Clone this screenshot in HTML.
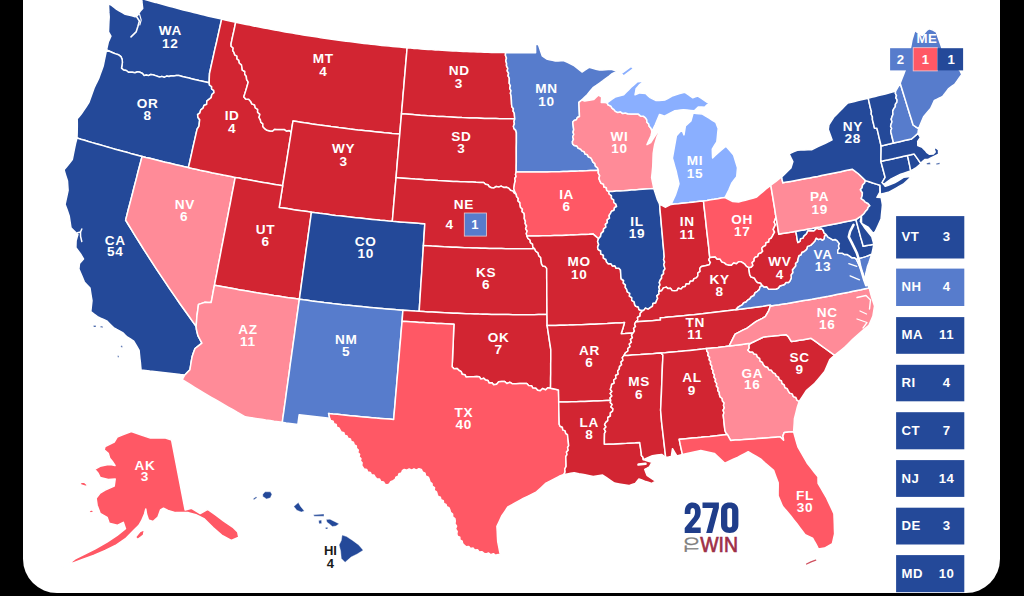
<!DOCTYPE html><html><head><meta charset="utf-8"><style>
html,body{margin:0;padding:0;background:#000;}
#wrap{position:relative;width:1024px;height:596px;overflow:hidden;background:#000;}
#card{position:absolute;left:23px;top:-40px;width:977px;height:633px;background:#fff;border-radius:34px;}
svg{position:absolute;left:0;top:0;}
text{font-family:"Liberation Sans",sans-serif;font-weight:bold;} .nw{font-weight:normal}
</style></head><body><div id="wrap"><div id="card"></div>
<svg width="1024" height="596" viewBox="0 0 1024 596">
<g stroke="#fff" stroke-width="1.5" stroke-linejoin="round">
<path d="M141.7,-1.5 145.1,-0.5 148.6,0.5 152.0,1.5 155.5,2.4 159.0,3.4 162.4,4.3 165.9,5.3 169.4,6.2 172.8,7.1 176.3,8.1 179.8,9.0 183.3,9.9 186.8,10.7 190.2,11.6 193.7,12.5 197.2,13.3 200.7,14.2 204.2,15.0 207.7,15.9 211.2,16.7 214.7,17.5 218.2,18.3 221.7,19.1 220.6,24.0 219.5,28.9 218.4,33.9 217.3,38.8 216.2,43.7 215.0,48.7 213.9,53.6 212.8,58.6 211.7,63.5 210.6,68.5 209.5,73.5 209.3,78.1 209.2,82.8 205.8,82.0 202.5,81.2 199.1,80.5 195.7,79.7 192.3,78.9 189.0,78.1 185.6,77.3 182.2,76.4 178.9,75.6 176.3,75.4 173.8,75.9 171.3,75.7 169.0,76.5 166.6,76.1 164.2,77.3 161.8,76.4 159.4,77.0 156.2,75.9 152.9,74.8 150.7,74.5 148.5,75.6 146.3,75.0 144.1,75.6 142.5,73.5 140.2,72.3 137.6,71.8 135.0,72.7 132.3,72.3 128.4,72.3 126.3,70.5 123.5,70.0 121.5,68.1 122.4,62.7 122.2,59.6 121.0,56.7 118.6,54.8 115.6,53.9 112.8,52.7 110.0,51.5 106.5,50.0 107.4,46.0 108.3,42.0 109.6,39.1 110.9,36.2 108.5,31.8 108.7,26.8 108.9,21.9 109.2,16.9 108.9,12.9 108.7,8.9 108.5,4.9 110.0,4.3 112.3,5.9 114.5,7.6 116.7,9.3 119.6,11.0 122.4,12.6 125.2,14.3 128.5,15.1 131.9,15.8 135.1,16.8 138.0,14.9 140.4,10.9 142.7,8.4 142.3,5.1 141.9,1.7 141.7,-1.5Z" fill="#244999"/>
<path d="M106.5,50.0 110.0,51.5 112.8,52.7 115.6,53.9 118.6,54.8 121.0,56.7 122.2,59.6 122.4,62.7 121.5,68.1 123.5,70.0 126.3,70.5 128.4,72.3 132.3,72.3 135.0,72.7 137.6,71.8 140.2,72.3 142.5,73.5 144.1,75.6 146.3,75.0 148.5,75.6 150.7,74.5 152.9,74.8 156.2,75.9 159.4,77.0 161.8,76.4 164.2,77.3 166.6,76.1 169.0,76.5 171.3,75.7 173.8,75.9 176.3,75.4 178.9,75.6 182.2,76.4 185.6,77.3 189.0,78.1 192.3,78.9 195.7,79.7 199.1,80.5 202.5,81.2 205.8,82.0 209.2,82.8 209.5,85.1 211.6,86.5 211.6,89.0 213.7,90.4 214.0,92.7 211.8,94.5 211.2,97.6 208.9,99.4 206.8,101.1 206.7,104.2 203.9,105.5 203.1,108.1 200.7,109.9 199.9,112.9 197.6,114.7 198.0,117.5 199.7,119.7 199.3,123.0 199.0,126.2 197.1,129.2 196.0,134.0 194.9,138.8 193.8,143.6 192.7,148.4 191.7,153.2 190.6,158.0 189.5,162.8 188.4,167.6 184.5,166.7 180.7,165.8 176.8,164.9 172.9,164.0 169.1,163.1 165.2,162.2 161.3,161.2 157.5,160.3 153.6,159.3 149.8,158.3 145.9,157.4 142.1,156.4 138.2,155.4 134.4,154.4 130.5,153.4 126.7,152.3 122.8,151.3 119.0,150.2 115.2,149.2 111.4,148.1 107.5,147.0 103.7,145.9 99.9,144.8 96.1,143.7 92.2,142.6 88.4,141.5 84.6,140.3 80.8,139.2 77.0,138.0 77.2,132.3 77.3,126.7 77.3,122.8 77.2,118.8 79.2,116.5 81.2,114.1 83.7,110.3 86.3,106.5 88.8,102.7 90.5,97.9 92.3,93.1 94.0,88.3 96.3,83.3 98.7,78.4 100.2,74.3 101.7,70.2 103.2,66.1 104.3,60.7 105.4,55.4 106.5,50.0Z" fill="#244999"/>
<path d="M77.0,138.0 80.8,139.2 84.6,140.3 88.4,141.5 92.2,142.6 96.1,143.7 99.9,144.8 103.7,145.9 107.5,147.0 111.4,148.1 115.2,149.2 119.0,150.2 122.8,151.3 126.7,152.3 130.5,153.4 134.4,154.4 138.2,155.4 142.1,156.4 140.7,161.7 139.3,167.0 137.9,172.3 136.6,177.6 135.2,182.9 133.8,188.2 132.5,193.5 131.1,198.9 129.7,204.2 128.3,209.5 127.0,214.8 125.6,220.1 128.6,225.0 131.6,229.9 134.6,234.8 137.6,239.6 140.7,244.5 143.7,249.4 146.8,254.2 150.0,259.1 153.1,263.9 156.3,268.8 159.5,273.6 162.7,278.4 165.9,283.2 169.2,288.1 172.5,292.9 175.8,297.7 179.1,302.5 182.5,307.2 185.9,312.0 189.3,316.8 192.7,321.6 196.1,326.3 196.5,329.8 197.9,335.6 199.9,339.4 201.9,343.1 198.4,345.8 195.0,348.5 193.5,352.6 192.1,356.8 191.3,361.1 190.6,365.5 189.9,369.8 187.3,372.4 184.8,375.0 180.4,374.6 176.0,374.1 171.7,373.6 167.3,373.1 162.9,372.6 158.6,372.1 154.2,371.6 149.8,371.1 145.5,370.5 141.1,370.0 140.7,366.3 140.4,362.6 139.9,358.6 139.5,354.5 139.1,350.4 136.4,345.7 133.7,341.1 130.4,339.0 127.1,337.0 125.1,335.0 123.1,332.9 119.9,331.1 116.7,329.4 113.5,327.6 110.1,324.3 106.7,320.9 103.6,319.5 100.6,318.2 97.5,316.7 94.1,314.2 90.8,311.6 91.4,306.1 92.0,300.6 91.4,297.0 90.8,293.4 90.0,288.0 87.1,284.9 84.3,281.9 81.6,275.4 78.9,269.0 79.5,263.5 83.5,258.9 81.1,254.8 78.5,251.2 75.9,247.6 76.0,244.2 76.1,240.8 77.0,237.6 77.9,234.5 74.5,231.2 71.0,227.9 70.1,221.9 69.2,215.9 67.2,210.1 65.1,204.4 66.1,199.7 67.1,195.0 68.1,190.4 67.8,185.7 67.5,181.0 65.7,175.4 64.0,169.8 66.8,166.4 69.6,163.0 72.3,159.5 73.4,154.1 74.5,148.7 75.6,143.3 77.0,138.0Z" fill="#244999"/>
<path d="M142.1,156.4 145.9,157.4 149.8,158.3 153.6,159.3 157.5,160.3 161.3,161.2 165.2,162.2 169.1,163.1 172.9,164.0 176.8,164.9 180.7,165.8 184.5,166.7 188.4,167.6 192.3,168.5 196.2,169.3 200.1,170.2 204.0,171.0 207.9,171.8 211.8,172.7 215.7,173.5 219.6,174.3 223.5,175.1 227.4,175.8 231.3,176.6 235.2,177.4 234.2,182.8 233.2,188.1 232.1,193.5 231.1,198.9 230.1,204.3 229.0,209.7 228.0,215.1 226.9,220.5 225.9,225.8 224.9,231.2 223.8,236.6 222.8,242.0 221.7,247.4 220.7,252.8 219.7,258.2 218.6,263.6 217.6,269.0 216.6,274.4 215.5,279.8 214.5,285.2 213.6,289.5 212.8,293.9 212.0,298.3 211.1,302.6 208.0,302.5 205.0,302.3 201.7,303.4 198.5,304.4 197.8,309.9 197.0,315.3 196.6,320.8 196.1,326.3 192.7,321.6 189.3,316.8 185.9,312.0 182.5,307.2 179.1,302.5 175.8,297.7 172.5,292.9 169.2,288.1 165.9,283.2 162.7,278.4 159.5,273.6 156.3,268.8 153.1,263.9 150.0,259.1 146.8,254.2 143.7,249.4 140.7,244.5 137.6,239.6 134.6,234.8 131.6,229.9 128.6,225.0 125.6,220.1 127.0,214.8 128.3,209.5 129.7,204.2 131.1,198.9 132.5,193.5 133.8,188.2 135.2,182.9 136.6,177.6 137.9,172.3 139.3,167.0 140.7,161.7 142.1,156.4Z" fill="#ff8b98"/>
<path d="M221.7,19.1 225.2,19.9 228.7,20.7 232.2,21.4 235.7,22.2 234.8,26.5 233.9,30.8 232.9,35.1 232.0,39.4 231.1,43.7 231.1,46.2 233.2,48.0 232.8,50.6 234.1,52.7 234.8,54.9 237.0,56.2 237.0,58.9 238.9,60.3 239.3,63.0 241.5,64.9 242.0,67.6 242.3,70.1 244.8,71.5 244.7,74.3 246.3,76.2 246.6,79.4 248.2,82.1 247.0,86.5 245.7,90.9 244.8,93.8 243.8,96.7 245.6,99.0 248.7,99.3 250.7,101.4 251.8,103.9 254.6,105.0 255.3,107.9 257.7,109.3 257.6,112.2 259.9,114.4 259.0,117.4 260.4,119.8 260.8,122.2 262.9,123.8 262.8,126.5 264.4,128.3 267.0,130.3 270.2,130.9 272.6,131.0 274.5,129.2 276.8,129.4 280.7,129.5 284.6,129.6 286.6,131.1 289.3,130.5 291.2,132.2 290.4,137.5 289.5,142.9 288.7,148.2 287.8,153.6 287.0,158.9 286.1,164.3 285.2,169.6 284.4,175.0 283.5,180.4 282.7,185.7 278.7,185.1 274.7,184.4 270.8,183.8 266.8,183.1 262.9,182.4 258.9,181.7 255.0,181.0 251.0,180.3 247.1,179.6 243.1,178.9 239.2,178.1 235.2,177.4 231.3,176.6 227.4,175.8 223.5,175.1 219.6,174.3 215.7,173.5 211.8,172.7 207.9,171.8 204.0,171.0 200.1,170.2 196.2,169.3 192.3,168.5 188.4,167.6 189.5,162.8 190.6,158.0 191.7,153.2 192.7,148.4 193.8,143.6 194.9,138.8 196.0,134.0 197.1,129.2 199.0,126.2 199.3,123.0 199.7,119.7 198.0,117.5 197.6,114.7 199.9,112.9 200.7,109.9 203.1,108.1 203.9,105.5 206.7,104.2 206.8,101.1 208.9,99.4 211.2,97.6 211.8,94.5 214.0,92.7 213.7,90.4 211.6,89.0 211.6,86.5 209.5,85.1 209.2,82.8 209.3,78.1 209.5,73.5 210.6,68.5 211.7,63.5 212.8,58.6 213.9,53.6 215.0,48.7 216.2,43.7 217.3,38.8 218.4,33.9 219.5,28.9 220.6,24.0 221.7,19.1Z" fill="#d22532"/>
<path d="M235.7,22.2 239.2,22.9 242.8,23.7 246.3,24.4 249.8,25.1 253.4,25.9 256.9,26.6 260.5,27.3 264.0,27.9 267.6,28.6 271.1,29.3 274.7,30.0 278.2,30.6 281.8,31.2 285.3,31.9 288.9,32.5 292.5,33.1 296.0,33.7 299.6,34.3 303.2,34.9 306.7,35.5 310.3,36.0 313.9,36.6 317.4,37.1 321.0,37.7 324.6,38.2 328.2,38.7 331.7,39.2 335.3,39.7 338.9,40.2 342.5,40.7 346.1,41.2 349.6,41.6 353.2,42.1 356.8,42.5 360.4,43.0 364.0,43.4 367.6,43.8 371.2,44.2 374.8,44.6 378.3,45.0 381.9,45.4 385.5,45.8 389.1,46.1 392.7,46.5 396.3,46.8 399.9,47.1 403.5,47.5 407.1,47.8 406.7,52.8 406.3,57.9 405.8,62.9 405.4,68.0 405.0,73.0 404.5,78.1 404.1,83.2 403.7,88.2 403.2,93.3 402.8,98.4 402.4,103.5 401.9,108.6 401.5,113.7 401.1,118.8 400.6,123.9 400.2,129.0 399.8,134.1 395.9,133.7 392.1,133.4 388.3,133.0 384.5,132.7 380.6,132.3 376.8,131.9 373.0,131.5 369.2,131.1 365.4,130.7 361.5,130.3 357.7,129.9 353.9,129.4 350.1,129.0 346.3,128.5 342.5,128.0 338.7,127.6 334.8,127.1 331.0,126.6 327.2,126.0 323.4,125.5 319.6,125.0 315.8,124.4 312.0,123.9 308.2,123.3 304.4,122.8 300.6,122.2 296.8,121.6 293.0,121.0 292.4,124.7 291.8,128.4 291.2,132.2 289.3,130.5 286.6,131.1 284.6,129.6 280.7,129.5 276.8,129.4 274.5,129.2 272.6,131.0 270.2,130.9 267.0,130.3 264.4,128.3 262.8,126.5 262.9,123.8 260.8,122.2 260.4,119.8 259.0,117.4 259.9,114.4 257.6,112.2 257.7,109.3 255.3,107.9 254.6,105.0 251.8,103.9 250.7,101.4 248.7,99.3 245.6,99.0 243.8,96.7 244.8,93.8 245.7,90.9 247.0,86.5 248.2,82.1 246.6,79.4 246.3,76.2 244.7,74.3 244.8,71.5 242.3,70.1 242.0,67.6 241.5,64.9 239.3,63.0 238.9,60.3 237.0,58.9 237.0,56.2 234.8,54.9 234.1,52.7 232.8,50.6 233.2,48.0 231.1,46.2 231.1,43.7 232.0,39.4 232.9,35.1 233.9,30.8 234.8,26.5 235.7,22.2Z" fill="#d22532"/>
<path d="M291.2,132.2 291.8,128.4 292.4,124.7 293.0,121.0 296.8,121.6 300.6,122.2 304.4,122.8 308.2,123.3 312.0,123.9 315.8,124.4 319.6,125.0 323.4,125.5 327.2,126.0 331.0,126.6 334.8,127.1 338.7,127.6 342.5,128.0 346.3,128.5 350.1,129.0 353.9,129.4 357.7,129.9 361.5,130.3 365.4,130.7 369.2,131.1 373.0,131.5 376.8,131.9 380.6,132.3 384.5,132.7 388.3,133.0 392.1,133.4 395.9,133.7 399.8,134.1 399.3,139.5 398.8,144.9 398.4,150.4 397.9,155.8 397.4,161.2 397.0,166.7 396.5,172.1 396.1,177.6 395.6,183.0 395.1,188.5 394.7,193.9 394.2,199.4 393.7,204.9 393.3,210.3 392.8,215.8 392.3,221.2 388.3,220.9 384.2,220.5 380.2,220.2 376.1,219.8 372.1,219.4 368.0,219.0 364.0,218.6 359.9,218.1 355.9,217.7 351.8,217.2 347.8,216.8 343.7,216.3 339.7,215.8 335.6,215.4 331.6,214.9 327.6,214.3 323.5,213.8 319.5,213.3 315.5,212.7 311.4,212.2 307.4,211.6 303.4,211.1 299.3,210.5 295.3,209.9 291.3,209.3 287.2,208.6 283.2,208.0 279.2,207.4 280.1,202.0 280.9,196.6 281.8,191.1 282.7,185.7 283.5,180.4 284.4,175.0 285.2,169.6 286.1,164.3 287.0,158.9 287.8,153.6 288.7,148.2 289.5,142.9 290.4,137.5 291.2,132.2Z" fill="#d22532"/>
<path d="M235.2,177.4 239.2,178.1 243.1,178.9 247.1,179.6 251.0,180.3 255.0,181.0 258.9,181.7 262.9,182.4 266.8,183.1 270.8,183.8 274.7,184.4 278.7,185.1 282.7,185.7 281.8,191.1 280.9,196.6 280.1,202.0 279.2,207.4 283.2,208.0 287.2,208.6 291.3,209.3 295.3,209.9 299.3,210.5 303.4,211.1 307.4,211.6 311.4,212.2 310.7,217.6 309.9,223.1 309.2,228.5 308.4,233.9 307.7,239.4 306.9,244.8 306.1,250.2 305.4,255.7 304.6,261.1 303.9,266.6 303.1,272.0 302.4,277.5 301.6,282.9 300.9,288.3 300.1,293.8 299.4,299.2 295.1,298.6 290.8,298.0 286.6,297.4 282.3,296.8 278.1,296.1 273.8,295.5 269.6,294.8 265.3,294.1 261.1,293.4 256.8,292.8 252.6,292.0 248.3,291.3 244.1,290.6 239.9,289.9 235.6,289.1 231.4,288.3 227.2,287.6 222.9,286.8 218.7,286.0 214.5,285.2 215.5,279.8 216.6,274.4 217.6,269.0 218.6,263.6 219.7,258.2 220.7,252.8 221.7,247.4 222.8,242.0 223.8,236.6 224.9,231.2 225.9,225.8 226.9,220.5 228.0,215.1 229.0,209.7 230.1,204.3 231.1,198.9 232.1,193.5 233.2,188.1 234.2,182.8 235.2,177.4Z" fill="#d22532"/>
<path d="M311.4,212.2 315.5,212.7 319.5,213.3 323.5,213.8 327.6,214.3 331.6,214.9 335.6,215.4 339.7,215.8 343.7,216.3 347.8,216.8 351.8,217.2 355.9,217.7 359.9,218.1 364.0,218.6 368.0,219.0 372.1,219.4 376.1,219.8 380.2,220.2 384.2,220.5 388.3,220.9 392.3,221.2 396.4,221.6 400.4,221.9 404.5,222.2 408.6,222.5 412.6,222.8 416.7,223.1 420.7,223.4 424.8,223.7 424.5,229.1 424.1,234.6 423.8,240.1 423.4,245.6 423.1,251.0 422.7,256.5 422.4,262.0 422.0,267.5 421.7,273.0 421.3,278.5 420.9,283.9 420.6,289.4 420.2,294.9 419.9,300.4 419.5,305.9 419.2,311.3 415.1,311.1 411.0,310.8 407.0,310.5 402.9,310.2 398.7,309.9 394.6,309.6 390.4,309.2 386.3,308.9 382.1,308.5 378.0,308.2 373.8,307.8 369.7,307.4 365.5,307.0 361.4,306.6 357.2,306.2 353.1,305.8 349.0,305.3 344.8,304.9 340.7,304.4 336.5,303.9 332.4,303.5 328.3,303.0 324.1,302.5 320.0,301.9 315.9,301.4 311.7,300.9 307.6,300.3 303.5,299.8 299.4,299.2 300.1,293.8 300.9,288.3 301.6,282.9 302.4,277.5 303.1,272.0 303.9,266.6 304.6,261.1 305.4,255.7 306.1,250.2 306.9,244.8 307.7,239.4 308.4,233.9 309.2,228.5 309.9,223.1 310.7,217.6 311.4,212.2Z" fill="#244999"/>
<path d="M214.5,285.2 218.7,286.0 222.9,286.8 227.2,287.6 231.4,288.3 235.6,289.1 239.9,289.9 244.1,290.6 248.3,291.3 252.6,292.0 256.8,292.8 261.1,293.4 265.3,294.1 269.6,294.8 273.8,295.5 278.1,296.1 282.3,296.8 286.6,297.4 290.8,298.0 295.1,298.6 299.4,299.2 298.6,304.6 297.9,309.9 297.1,315.3 296.4,320.7 295.6,326.0 294.9,331.4 294.2,336.8 293.4,342.1 292.7,347.5 291.9,352.8 291.2,358.2 290.4,363.5 289.7,368.9 289.0,374.2 288.2,379.6 287.5,384.9 286.7,390.3 286.0,395.6 285.3,401.0 284.5,406.3 283.8,411.6 283.0,417.0 282.3,422.3 278.2,421.7 274.1,421.2 270.0,420.6 265.8,420.0 261.7,419.3 257.6,418.7 253.5,418.1 249.4,417.4 245.3,416.8 241.0,414.4 236.7,412.0 232.5,409.5 228.2,407.1 224.0,404.7 219.8,402.2 215.5,399.7 211.3,397.3 207.1,394.8 202.9,392.3 198.8,389.8 194.6,387.3 190.4,384.7 186.3,382.2 182.2,379.6 184.8,375.0 187.3,372.4 189.9,369.8 190.6,365.5 191.3,361.1 192.1,356.8 193.5,352.6 195.0,348.5 198.4,345.8 201.9,343.1 199.9,339.4 197.9,335.6 196.5,329.8 196.1,326.3 196.6,320.8 197.0,315.3 197.8,309.9 198.5,304.4 201.7,303.4 205.0,302.3 208.0,302.5 211.1,302.6 212.0,298.3 212.8,293.9 213.6,289.5 214.5,285.2Z" fill="#ff8b98"/>
<path d="M299.4,299.2 303.5,299.8 307.6,300.3 311.7,300.9 315.9,301.4 320.0,301.9 324.1,302.5 328.3,303.0 332.4,303.5 336.5,303.9 340.7,304.4 344.8,304.9 349.0,305.3 353.1,305.8 357.2,306.2 361.4,306.6 365.5,307.0 369.7,307.4 373.8,307.8 378.0,308.2 382.1,308.5 386.3,308.9 390.4,309.2 394.6,309.6 398.7,309.9 402.9,310.2 402.5,315.7 402.1,321.2 401.6,326.6 401.1,332.1 400.7,337.6 400.2,343.0 399.7,348.5 399.3,354.0 398.8,359.4 398.3,364.9 397.9,370.4 397.4,375.8 396.9,381.3 396.5,386.8 396.0,392.2 395.5,397.7 395.1,403.1 394.6,408.6 394.1,414.0 393.7,419.5 389.3,419.1 385.0,418.8 380.6,418.4 376.3,418.1 372.0,417.7 367.6,417.3 363.3,416.9 358.9,416.5 354.6,416.1 350.3,415.7 345.9,415.2 341.6,414.8 337.3,414.3 332.9,413.9 328.6,413.4 329.7,418.3 325.3,417.8 321.0,417.3 316.6,416.8 312.2,416.3 307.9,415.8 303.5,415.2 299.2,414.7 298.5,419.5 297.9,424.4 294.0,423.9 290.1,423.4 286.2,422.9 282.3,422.3 283.0,417.0 283.8,411.6 284.5,406.3 285.3,401.0 286.0,395.6 286.7,390.3 287.5,384.9 288.2,379.6 289.0,374.2 289.7,368.9 290.4,363.5 291.2,358.2 291.9,352.8 292.7,347.5 293.4,342.1 294.2,336.8 294.9,331.4 295.6,326.0 296.4,320.7 297.1,315.3 297.9,309.9 298.6,304.6 299.4,299.2Z" fill="#577ccc"/>
<path d="M407.1,47.8 410.6,48.1 414.1,48.4 417.6,48.6 421.2,48.9 424.7,49.2 428.2,49.4 431.7,49.6 435.2,49.9 438.7,50.1 442.2,50.3 445.7,50.5 449.3,50.7 452.8,50.9 456.3,51.1 459.8,51.2 463.3,51.4 466.8,51.6 470.4,51.7 473.9,51.8 477.4,52.0 480.9,52.1 484.4,52.2 488.0,52.3 491.5,52.4 495.0,52.4 498.5,52.5 502.0,52.6 505.6,52.6 505.4,55.3 506.5,58.0 505.8,60.7 506.6,63.4 506.5,65.9 507.8,68.3 507.2,70.9 508.6,73.2 508.1,75.8 509.3,78.1 509.3,80.7 509.2,83.2 510.4,85.7 509.7,88.3 511.0,90.7 510.4,93.4 511.1,95.8 511.4,100.2 511.6,104.5 511.9,106.8 513.4,108.7 513.1,111.2 514.3,113.2 514.5,116.0 514.8,118.9 511.0,118.8 507.3,118.8 503.5,118.7 499.7,118.7 495.9,118.6 492.1,118.5 488.4,118.5 484.6,118.4 480.8,118.2 477.0,118.1 473.2,118.0 469.5,117.9 465.7,117.7 461.9,117.6 458.1,117.4 454.3,117.2 450.6,117.0 446.8,116.8 443.0,116.6 439.2,116.4 435.5,116.2 431.7,115.9 427.9,115.7 424.1,115.4 420.4,115.2 416.6,114.9 412.8,114.6 409.0,114.3 405.3,114.0 401.5,113.7 401.9,108.6 402.4,103.5 402.8,98.4 403.2,93.3 403.7,88.2 404.1,83.2 404.5,78.1 405.0,73.0 405.4,68.0 405.8,62.9 406.3,57.9 406.7,52.8 407.1,47.8Z" fill="#d22532"/>
<path d="M401.5,113.7 405.3,114.0 409.0,114.3 412.8,114.6 416.6,114.9 420.4,115.2 424.1,115.4 427.9,115.7 431.7,115.9 435.5,116.2 439.2,116.4 443.0,116.6 446.8,116.8 450.6,117.0 454.3,117.2 458.1,117.4 461.9,117.6 465.7,117.7 469.5,117.9 473.2,118.0 477.0,118.1 480.8,118.2 484.6,118.4 488.4,118.5 492.1,118.5 495.9,118.6 499.7,118.7 503.5,118.7 507.3,118.8 511.0,118.8 514.8,118.9 514.0,121.2 514.4,123.9 513.4,126.2 514.0,128.6 515.8,130.4 516.4,132.8 516.4,137.7 516.4,142.6 516.3,147.5 516.3,152.4 516.3,157.3 516.3,162.2 516.2,167.1 516.2,172.1 515.5,174.2 516.1,176.5 514.8,178.5 515.3,180.9 514.6,183.0 513.8,188.5 514.7,191.6 516.3,194.4 514.2,193.2 512.9,191.1 510.5,190.2 509.0,188.4 506.5,187.2 503.6,187.4 501.1,186.1 498.8,187.0 496.2,186.5 494.0,187.9 491.5,187.7 489.3,186.8 487.9,184.8 485.4,184.2 483.7,182.5 479.9,182.4 476.1,182.3 472.3,182.1 468.5,182.0 464.6,181.8 460.8,181.7 457.0,181.5 453.2,181.4 449.4,181.2 445.6,181.0 441.8,180.8 438.0,180.6 434.1,180.3 430.3,180.1 426.5,179.9 422.7,179.6 418.9,179.3 415.1,179.1 411.3,178.8 407.5,178.5 403.7,178.2 399.9,177.9 396.1,177.6 396.5,172.1 397.0,166.7 397.4,161.2 397.9,155.8 398.4,150.4 398.8,144.9 399.3,139.5 399.8,134.1 400.2,129.0 400.6,123.9 401.1,118.8 401.5,113.7Z" fill="#d22532"/>
<path d="M396.1,177.6 399.9,177.9 403.7,178.2 407.5,178.5 411.3,178.8 415.1,179.1 418.9,179.3 422.7,179.6 426.5,179.9 430.3,180.1 434.1,180.3 438.0,180.6 441.8,180.8 445.6,181.0 449.4,181.2 453.2,181.4 457.0,181.5 460.8,181.7 464.6,181.8 468.5,182.0 472.3,182.1 476.1,182.3 479.9,182.4 483.7,182.5 485.4,184.2 487.9,184.8 489.3,186.8 491.5,187.7 494.0,187.9 496.2,186.5 498.8,187.0 501.1,186.1 503.6,187.4 506.5,187.2 509.0,188.4 510.5,190.2 512.9,191.1 514.2,193.2 516.3,194.4 516.6,196.6 518.3,198.4 518.0,200.9 519.9,202.6 520.1,204.9 520.5,207.3 522.4,209.1 522.1,211.7 524.1,213.4 524.4,215.9 524.3,218.6 525.4,221.1 525.2,223.7 526.6,226.0 525.6,228.7 527.2,231.0 526.3,233.6 527.0,236.1 527.9,238.4 530.1,240.0 530.4,242.6 532.6,244.2 532.8,247.0 534.7,248.7 530.5,248.8 526.4,248.8 522.3,248.8 518.2,248.8 514.0,248.8 509.9,248.7 505.8,248.7 501.7,248.6 497.6,248.6 493.4,248.5 489.3,248.4 485.2,248.3 481.1,248.2 476.9,248.1 472.8,248.0 468.7,247.8 464.6,247.7 460.5,247.5 456.3,247.3 452.2,247.2 448.1,247.0 444.0,246.8 439.9,246.5 435.8,246.3 431.6,246.1 427.5,245.8 423.4,245.6 423.8,240.1 424.1,234.6 424.5,229.1 424.8,223.7 420.7,223.4 416.7,223.1 412.6,222.8 408.6,222.5 404.5,222.2 400.4,221.9 396.4,221.6 392.3,221.2 392.8,215.8 393.3,210.3 393.7,204.9 394.2,199.4 394.7,193.9 395.1,188.5 395.6,183.0 396.1,177.6Z" fill="#d22532"/>
<path d="M423.4,245.6 427.5,245.8 431.6,246.1 435.8,246.3 439.9,246.5 444.0,246.8 448.1,247.0 452.2,247.2 456.3,247.3 460.5,247.5 464.6,247.7 468.7,247.8 472.8,248.0 476.9,248.1 481.1,248.2 485.2,248.3 489.3,248.4 493.4,248.5 497.6,248.6 501.7,248.6 505.8,248.7 509.9,248.7 514.0,248.8 518.2,248.8 522.3,248.8 526.4,248.8 530.5,248.8 534.7,248.7 535.7,251.2 538.1,252.8 538.7,255.6 540.7,257.5 541.1,260.8 541.6,264.1 542.9,266.0 545.3,266.6 546.7,268.4 546.7,273.5 546.7,278.6 546.8,283.8 546.8,288.9 546.8,294.0 546.9,299.1 546.9,304.3 547.0,309.4 547.0,314.5 542.7,314.6 538.5,314.6 534.2,314.7 529.9,314.7 525.7,314.7 521.4,314.7 517.2,314.7 512.9,314.7 508.6,314.6 504.4,314.6 500.1,314.5 495.8,314.5 491.6,314.4 487.3,314.3 483.1,314.2 478.8,314.1 474.5,313.9 470.3,313.8 466.0,313.7 461.8,313.5 457.5,313.3 453.2,313.2 449.0,313.0 444.7,312.8 440.5,312.6 436.2,312.3 432.0,312.1 427.7,311.9 423.4,311.6 419.2,311.3 419.5,305.9 419.9,300.4 420.2,294.9 420.6,289.4 420.9,283.9 421.3,278.5 421.7,273.0 422.0,267.5 422.4,262.0 422.7,256.5 423.1,251.0 423.4,245.6Z" fill="#d22532"/>
<path d="M402.9,310.2 407.0,310.5 411.0,310.8 415.1,311.1 419.2,311.3 423.4,311.6 427.7,311.9 432.0,312.1 436.2,312.3 440.5,312.6 444.7,312.8 449.0,313.0 453.2,313.2 457.5,313.3 461.8,313.5 466.0,313.7 470.3,313.8 474.5,313.9 478.8,314.1 483.1,314.2 487.3,314.3 491.6,314.4 495.8,314.5 500.1,314.5 504.4,314.6 508.6,314.6 512.9,314.7 517.2,314.7 521.4,314.7 525.7,314.7 529.9,314.7 534.2,314.7 538.5,314.6 542.7,314.6 547.0,314.5 547.1,320.0 547.1,325.5 547.9,330.3 548.6,335.2 549.3,340.0 550.1,344.8 550.8,349.6 550.8,354.4 550.8,359.3 550.7,364.1 550.7,368.9 550.7,373.8 550.6,378.6 550.6,383.4 550.5,388.2 547.8,387.8 545.5,389.9 542.6,388.5 540.3,390.7 537.6,390.3 535.9,388.3 532.9,388.1 531.5,385.7 528.6,385.4 526.8,383.4 523.2,383.5 519.6,383.6 516.0,383.7 512.5,383.8 510.0,382.3 506.9,383.5 504.5,381.4 501.7,381.5 498.7,381.8 496.6,384.3 493.6,384.7 492.0,382.8 489.2,383.1 488.0,380.6 485.6,380.1 483.8,378.3 480.9,379.1 479.3,376.7 476.8,376.6 473.2,376.7 469.6,376.8 466.0,376.9 464.9,374.7 462.1,374.2 461.3,371.7 459.1,370.5 457.2,368.6 454.0,368.8 452.1,366.7 452.4,361.4 452.6,356.1 452.8,350.8 453.1,345.5 453.3,340.2 453.5,334.8 453.7,329.5 454.0,324.2 449.6,324.0 445.3,323.8 441.0,323.6 436.6,323.4 432.3,323.1 428.0,322.9 423.7,322.6 419.4,322.4 415.0,322.1 410.7,321.8 406.4,321.5 402.1,321.2 402.5,315.7 402.9,310.2Z" fill="#d22532"/>
<path d="M402.1,321.2 406.4,321.5 410.7,321.8 415.0,322.1 419.4,322.4 423.7,322.6 428.0,322.9 432.3,323.1 436.6,323.4 441.0,323.6 445.3,323.8 449.6,324.0 454.0,324.2 453.7,329.5 453.5,334.8 453.3,340.2 453.1,345.5 452.8,350.8 452.6,356.1 452.4,361.4 452.1,366.7 454.0,368.8 457.2,368.6 459.1,370.5 461.3,371.7 462.1,374.2 464.9,374.7 466.0,376.9 469.6,376.8 473.2,376.7 476.8,376.6 479.3,376.7 480.9,379.1 483.8,378.3 485.6,380.1 488.0,380.6 489.2,383.1 492.0,382.8 493.6,384.7 496.6,384.3 498.7,381.8 501.7,381.5 504.5,381.4 506.9,383.5 510.0,382.3 512.5,383.8 516.0,383.7 519.6,383.6 523.2,383.5 526.8,383.4 528.6,385.4 531.5,385.7 532.9,388.1 535.9,388.3 537.6,390.3 540.3,390.7 542.6,388.5 545.5,389.9 547.8,387.8 550.5,388.2 554.5,389.1 558.5,390.1 558.6,394.1 558.7,398.1 558.7,402.1 558.8,406.5 558.9,410.9 559.0,415.4 559.1,419.8 559.2,424.2 560.1,426.3 562.4,427.3 562.8,429.9 565.2,430.9 565.7,433.3 567.5,434.7 568.1,440.2 568.7,445.6 567.6,447.6 568.2,450.2 566.5,452.1 567.0,454.6 565.8,456.6 566.0,461.5 566.1,466.4 564.8,469.0 565.1,471.9 563.8,474.5 559.1,476.3 554.7,478.6 550.4,480.8 546.0,483.1 541.3,487.5 536.5,491.9 532.1,494.1 527.6,496.3 523.2,498.4 519.3,500.6 515.5,502.7 511.6,504.9 507.8,507.0 504.9,511.3 501.9,515.6 499.4,521.0 496.9,526.4 497.2,531.5 497.4,536.5 497.7,541.6 498.6,546.2 499.5,550.8 500.4,555.4 498.2,554.4 495.6,555.3 493.4,553.7 490.8,554.8 488.6,553.0 486.0,554.0 483.7,553.2 481.8,551.7 479.2,551.9 477.5,549.8 474.8,550.1 473.2,548.1 470.4,548.5 468.8,546.4 466.1,546.7 464.2,545.1 462.6,543.6 462.2,541.1 459.9,540.0 459.8,537.3 457.4,536.3 456.8,534.0 457.2,531.4 455.5,528.9 456.6,526.1 454.9,523.7 455.3,521.0 454.9,518.5 452.6,516.9 452.6,514.1 450.5,512.4 449.9,510.0 449.0,507.8 446.6,506.8 446.0,504.4 443.6,503.4 443.3,500.8 440.9,499.8 440.4,497.3 438.0,496.4 437.2,494.2 436.5,491.9 434.2,490.4 434.5,487.6 432.2,486.1 432.0,483.6 430.0,482.0 429.3,479.6 428.3,477.1 425.5,476.0 425.0,473.1 422.4,471.8 421.3,469.4 418.9,468.7 416.5,470.1 414.0,468.8 411.6,470.1 409.2,468.9 406.8,470.1 404.3,469.4 402.4,470.7 401.6,473.1 399.0,473.7 398.3,476.2 395.9,477.1 395.2,479.5 393.1,480.7 390.8,481.7 389.4,484.0 387.1,485.0 384.8,484.2 383.5,481.9 380.8,481.5 379.6,479.1 376.8,479.0 375.3,477.1 374.0,475.1 371.4,474.7 370.3,472.4 367.7,472.0 366.7,469.6 364.2,469.1 362.8,467.3 361.7,465.3 362.1,462.8 360.4,461.0 360.9,458.5 359.0,456.7 359.6,454.2 357.7,452.5 358.3,450.0 356.4,448.2 356.3,445.9 354.2,444.8 353.4,442.3 351.1,441.5 350.4,439.0 347.9,438.3 347.0,436.0 344.5,435.3 343.9,432.7 341.3,432.1 340.1,430.0 339.0,428.0 336.6,427.2 336.2,424.5 333.8,423.7 333.1,421.3 330.6,420.5 329.7,418.3 328.6,413.4 332.9,413.9 337.3,414.3 341.6,414.8 345.9,415.2 350.3,415.7 354.6,416.1 358.9,416.5 363.3,416.9 367.6,417.3 372.0,417.7 376.3,418.1 380.6,418.4 385.0,418.8 389.3,419.1 393.7,419.5 394.1,414.0 394.6,408.6 395.1,403.1 395.5,397.7 396.0,392.2 396.5,386.8 396.9,381.3 397.4,375.8 397.9,370.4 398.3,364.9 398.8,359.4 399.3,354.0 399.7,348.5 400.2,343.0 400.7,337.6 401.1,332.1 401.6,326.6 402.1,321.2Z" fill="#ff5865"/>
<path d="M617.2,71.1 614.2,70.3 611.2,69.4 608.3,69.6 605.4,69.7 602.4,69.9 599.5,70.1 596.0,69.2 592.6,68.3 589.1,67.3 585.6,69.7 582.0,72.0 578.2,68.9 574.4,65.8 571.0,64.1 567.5,62.4 564.0,60.8 561.1,60.8 558.2,60.9 555.3,61.0 552.4,60.3 549.5,59.7 546.6,59.0 544.4,57.4 542.2,55.8 540.9,52.1 539.7,48.3 538.4,44.5 535.5,44.5 535.6,48.6 535.6,52.7 532.3,52.7 528.9,52.7 525.6,52.7 522.3,52.7 518.9,52.7 515.6,52.7 512.2,52.7 508.9,52.7 505.6,52.6 505.4,55.3 506.5,58.0 505.8,60.7 506.6,63.4 506.5,65.9 507.8,68.3 507.2,70.9 508.6,73.2 508.1,75.8 509.3,78.1 509.3,80.7 509.2,83.2 510.4,85.7 509.7,88.3 511.0,90.7 510.4,93.4 511.1,95.8 511.4,100.2 511.6,104.5 511.9,106.8 513.4,108.7 513.1,111.2 514.3,113.2 514.5,116.0 514.8,118.9 514.0,121.2 514.4,123.9 513.4,126.2 514.0,128.6 515.8,130.4 516.4,132.8 516.4,137.7 516.4,142.6 516.3,147.5 516.3,152.4 516.3,157.3 516.3,162.2 516.2,167.1 516.2,172.1 520.1,172.1 524.0,172.1 528.0,172.1 531.9,172.1 535.8,172.0 539.7,172.0 543.6,171.9 547.5,171.9 551.4,171.8 555.3,171.7 559.3,171.7 563.2,171.6 567.1,171.5 571.0,171.3 574.9,171.2 578.8,171.1 582.7,170.9 586.6,170.8 590.5,170.6 594.4,170.4 598.4,170.2 597.5,167.8 595.4,166.2 594.9,163.6 592.8,161.9 591.9,159.6 590.6,157.7 588.4,156.9 587.4,154.8 585.0,154.0 584.2,151.7 581.9,150.9 580.6,149.1 578.3,148.3 576.9,146.1 574.4,145.6 572.6,144.0 572.4,141.6 573.5,139.3 572.7,136.8 573.8,134.5 573.0,132.1 573.7,129.8 573.2,126.0 572.7,122.2 574.1,120.4 576.4,119.8 577.4,117.5 579.5,116.5 579.3,111.8 579.1,107.1 578.9,102.4 581.7,100.1 584.5,97.3 587.4,94.5 590.2,91.1 593.0,87.7 596.4,85.4 599.7,83.0 603.0,80.7 606.1,78.3 609.2,76.0 612.2,73.6 614.7,72.4 617.2,71.1Z" fill="#577ccc"/>
<path d="M516.2,172.1 520.1,172.1 524.0,172.1 528.0,172.1 531.9,172.1 535.8,172.0 539.7,172.0 543.6,171.9 547.5,171.9 551.4,171.8 555.3,171.7 559.3,171.7 563.2,171.6 567.1,171.5 571.0,171.3 574.9,171.2 578.8,171.1 582.7,170.9 586.6,170.8 590.5,170.6 594.4,170.4 598.4,170.2 598.2,173.0 599.7,175.6 598.9,178.5 600.0,181.1 601.0,183.2 603.5,184.1 603.8,186.8 606.3,187.7 606.7,190.3 608.7,191.6 609.2,194.0 611.4,195.6 611.5,198.3 613.7,199.8 613.8,202.5 615.9,204.1 616.6,206.5 614.5,207.7 614.0,210.3 611.5,211.2 610.5,213.4 609.1,215.5 609.5,218.2 607.2,219.9 607.4,222.6 605.4,224.4 605.9,227.2 603.6,228.8 603.4,231.4 601.2,233.4 600.5,236.5 598.5,238.7 595.8,236.4 593.2,234.1 589.3,234.3 585.4,234.4 581.5,234.6 577.6,234.8 573.7,234.9 569.8,235.1 566.0,235.2 562.1,235.4 558.2,235.5 554.3,235.6 550.4,235.7 546.5,235.8 542.6,235.8 538.7,235.9 534.8,236.0 530.9,236.0 527.0,236.1 526.3,233.6 527.2,231.0 525.6,228.7 526.6,226.0 525.2,223.7 525.4,221.1 524.3,218.6 524.4,215.9 524.1,213.4 522.1,211.7 522.4,209.1 520.5,207.3 520.1,204.9 519.9,202.6 518.0,200.9 518.3,198.4 516.6,196.6 516.3,194.4 514.7,191.6 513.8,188.5 514.6,183.0 515.3,180.9 514.8,178.5 516.1,176.5 515.5,174.2 516.2,172.1Z" fill="#ff5865"/>
<path d="M527.0,236.1 530.9,236.0 534.8,236.0 538.7,235.9 542.6,235.8 546.5,235.8 550.4,235.7 554.3,235.6 558.2,235.5 562.1,235.4 566.0,235.2 569.8,235.1 573.7,234.9 577.6,234.8 581.5,234.6 585.4,234.4 589.3,234.3 593.2,234.1 595.8,236.4 598.5,238.7 597.6,241.4 598.7,244.4 597.6,247.1 598.2,249.6 600.7,251.0 600.7,253.9 603.4,255.2 603.4,258.1 605.9,259.5 606.6,262.0 608.2,263.7 610.9,263.7 612.3,265.9 614.9,265.8 616.2,268.3 618.9,268.2 620.5,270.0 620.7,273.3 620.9,276.6 621.2,279.0 623.6,280.5 623.3,283.2 625.4,284.9 625.3,287.5 626.7,289.4 627.3,291.8 629.8,293.3 629.4,296.2 631.8,297.6 631.7,300.4 634.2,301.8 634.6,304.3 635.7,306.3 638.3,306.9 638.9,309.5 641.0,310.5 642.0,311.5 640.2,313.2 640.1,316.0 637.5,317.3 637.8,320.2 635.8,321.9 634.6,324.0 635.5,326.5 633.6,328.5 634.4,331.0 633.0,333.1 629.1,333.3 625.1,333.6 621.2,333.8 622.9,328.2 624.5,322.6 620.2,322.9 615.9,323.1 611.6,323.3 607.3,323.6 603.0,323.8 598.7,324.0 594.4,324.2 590.2,324.3 585.9,324.5 581.6,324.7 577.3,324.8 573.0,324.9 568.7,325.1 564.3,325.2 560.0,325.3 555.7,325.4 551.4,325.4 547.1,325.5 547.1,320.0 547.0,314.5 547.0,309.4 546.9,304.3 546.9,299.1 546.8,294.0 546.8,288.9 546.8,283.8 546.7,278.6 546.7,273.5 546.7,268.4 545.3,266.6 542.9,266.0 541.6,264.1 541.1,260.8 540.7,257.5 538.7,255.6 538.1,252.8 535.7,251.2 534.7,248.7 532.8,247.0 532.6,244.2 530.4,242.6 530.1,240.0 527.9,238.4 527.0,236.1Z" fill="#d22532"/>
<path d="M547.1,325.5 551.4,325.4 555.7,325.4 560.0,325.3 564.3,325.2 568.7,325.1 573.0,324.9 577.3,324.8 581.6,324.7 585.9,324.5 590.2,324.3 594.4,324.2 598.7,324.0 603.0,323.8 607.3,323.6 611.6,323.3 615.9,323.1 620.2,322.9 624.5,322.6 622.9,328.2 621.2,333.8 625.1,333.6 629.1,333.3 633.0,333.1 631.5,335.0 632.4,337.7 630.4,339.6 631.4,342.3 629.3,344.1 630.1,346.7 627.8,348.5 628.0,351.0 625.4,352.8 623.9,355.6 622.3,357.6 623.0,360.3 621.0,362.1 621.6,364.8 619.5,366.6 619.3,369.1 617.7,371.0 618.2,374.0 615.6,375.5 616.0,378.4 613.7,380.0 614.2,383.0 611.6,384.5 611.3,387.1 610.3,389.2 612.0,391.5 610.2,393.6 611.9,395.9 610.0,398.0 610.8,400.3 606.4,400.5 602.1,400.7 597.8,400.9 593.4,401.0 589.1,401.2 584.8,401.4 580.4,401.5 576.1,401.7 571.8,401.8 567.4,401.9 563.1,402.0 558.7,402.1 558.7,398.1 558.6,394.1 558.5,390.1 554.5,389.1 550.5,388.2 550.6,383.4 550.6,378.6 550.7,373.8 550.7,368.9 550.7,364.1 550.8,359.3 550.8,354.4 550.8,349.6 550.1,344.8 549.3,340.0 548.6,335.2 547.9,330.3 547.1,325.5Z" fill="#d22532"/>
<path d="M558.7,402.1 563.1,402.0 567.4,401.9 571.8,401.8 576.1,401.7 580.4,401.5 584.8,401.4 589.1,401.2 593.4,401.0 597.8,400.9 602.1,400.7 606.4,400.5 610.8,400.3 610.3,402.6 612.2,404.5 610.9,406.9 613.0,408.8 612.6,411.1 610.4,412.9 610.4,416.0 607.8,417.5 607.8,420.6 605.8,422.4 604.6,424.5 606.0,426.9 604.1,428.9 605.6,431.3 604.5,433.4 604.4,438.9 604.4,444.3 608.8,444.1 613.2,443.9 617.6,443.7 622.1,443.4 626.5,443.2 630.9,442.9 635.3,442.7 639.7,442.4 640.5,447.8 641.3,453.2 641.4,455.5 643.0,457.3 643.3,459.6 647.6,461.0 651.9,462.3 649.4,466.8 647.1,468.1 644.7,469.3 645.8,472.3 647.0,475.3 651.1,478.2 655.2,481.0 651.7,483.5 648.2,482.3 644.7,481.1 641.8,480.0 638.9,478.9 635.3,483.5 632.1,484.5 628.8,485.6 624.0,484.8 619.2,484.0 614.4,483.1 610.4,480.4 606.5,477.7 602.6,475.0 597.9,475.7 593.2,476.4 588.4,475.5 583.7,474.6 578.9,473.7 574.2,472.7 570.7,473.3 567.3,473.9 563.8,474.5 565.1,471.9 564.8,469.0 566.1,466.4 566.0,461.5 565.8,456.6 567.0,454.6 566.5,452.1 568.2,450.2 567.6,447.6 568.7,445.6 568.1,440.2 567.5,434.7 565.7,433.3 565.2,430.9 562.8,429.9 562.4,427.3 560.1,426.3 559.2,424.2 559.1,419.8 559.0,415.4 558.9,410.9 558.8,406.5 558.7,402.1Z" fill="#d22532"/>
<path d="M607.0,102.8 604.1,102.6 601.3,102.5 601.7,97.0 598.6,95.0 596.1,97.3 593.6,99.6 590.7,100.1 587.7,100.6 584.7,101.1 581.7,100.1 578.9,102.4 579.1,107.1 579.3,111.8 579.5,116.5 577.4,117.5 576.4,119.8 574.1,120.4 572.7,122.2 573.2,126.0 573.7,129.8 573.0,132.1 573.8,134.5 572.7,136.8 573.5,139.3 572.4,141.6 572.6,144.0 574.4,145.6 576.9,146.1 578.3,148.3 580.6,149.1 581.9,150.9 584.2,151.7 585.0,154.0 587.4,154.8 588.4,156.9 590.6,157.7 591.9,159.6 592.8,161.9 594.9,163.6 595.4,166.2 597.5,167.8 598.4,170.2 598.2,173.0 599.7,175.6 598.9,178.5 600.0,181.1 601.0,183.2 603.5,184.1 603.8,186.8 606.3,187.7 606.7,190.3 608.7,191.6 612.4,191.4 616.2,191.1 620.0,190.9 623.7,190.7 627.5,190.4 631.3,190.1 635.0,189.9 638.8,189.6 642.5,189.3 646.3,189.0 650.1,188.7 653.8,188.4 652.7,183.0 651.6,177.6 652.2,172.0 652.7,166.5 652.9,162.1 653.0,157.7 653.2,153.3 653.9,148.9 654.7,144.4 655.9,140.5 657.1,136.5 659.4,131.9 661.6,127.4 659.2,130.3 656.8,133.3 653.7,137.9 650.7,142.6 647.0,144.6 648.9,140.3 650.9,136.0 652.0,131.5 651.1,128.6 649.2,126.3 648.7,124.0 646.9,122.3 646.8,119.8 645.5,117.9 643.3,116.2 640.4,115.9 638.3,114.1 634.8,114.0 631.2,113.9 627.7,113.8 625.3,113.0 622.6,113.4 620.4,111.8 617.7,112.4 615.4,111.4 614.0,109.6 612.2,108.3 610.8,106.1 608.3,105.0 607.0,102.8Z" fill="#ff8b98"/>
<path d="M652.0,131.5 651.1,128.6 649.2,126.3 648.7,124.0 646.9,122.3 646.8,119.8 645.5,117.9 643.3,116.2 640.4,115.9 638.3,114.1 634.8,114.0 631.2,113.9 627.7,113.8 625.3,113.0 622.6,113.4 620.4,111.8 617.7,112.4 615.4,111.4 614.0,109.6 612.2,108.3 610.8,106.1 608.3,105.0 607.0,102.8 609.7,100.9 612.4,99.0 615.1,97.1 617.9,96.3 620.8,95.5 623.7,94.8 626.1,92.3 628.5,89.9 630.8,87.5 634.1,84.6 637.4,81.8 640.9,81.5 644.4,81.2 642.1,82.9 639.7,84.6 637.9,86.7 636.1,88.8 635.6,91.8 635.0,94.8 637.4,93.8 639.8,92.9 642.7,93.2 645.7,93.5 647.9,95.6 650.2,97.6 653.1,99.1 656.1,100.6 659.1,100.4 662.1,100.2 665.1,99.9 667.7,98.5 670.3,97.1 672.9,95.7 675.8,94.8 678.8,93.9 681.7,93.1 684.6,92.2 688.7,95.0 692.8,97.8 695.3,96.9 697.9,96.1 701.5,98.5 705.1,101.0 708.7,103.5 706.6,105.4 704.6,107.3 701.5,107.1 698.5,106.9 696.4,108.8 694.3,110.7 690.7,110.4 687.1,110.1 683.5,109.8 680.5,110.1 677.5,110.4 674.5,110.8 671.1,112.6 667.8,114.4 664.4,116.2 662.0,115.3 659.6,114.4 657.4,119.6 655.2,124.7 653.6,128.1 652.0,131.5ZM621.5,73.5 631.0,66.5 633.5,68.5 623.5,76.0Z" fill="#8aafff"/>
<path d="M671.1,204.4 673.2,199.8 675.3,195.2 677.2,189.5 679.0,183.8 678.0,179.5 677.0,175.2 676.1,170.9 674.8,166.6 673.6,162.3 672.4,158.1 673.4,152.5 674.4,146.9 675.4,141.3 676.4,135.7 679.1,132.7 681.9,129.7 684.0,134.9 684.7,130.5 685.4,126.0 688.2,123.5 690.9,121.0 692.0,117.0 693.1,113.1 696.2,113.4 699.3,113.8 702.4,114.1 705.7,116.2 709.1,118.2 712.4,120.3 715.8,122.3 717.0,125.4 718.2,128.6 717.7,133.0 717.3,137.5 716.8,141.9 714.5,145.5 712.3,149.1 712.4,153.5 712.6,157.9 715.4,155.3 718.2,152.8 721.1,150.2 723.5,148.2 726.0,146.2 729.8,150.6 733.6,155.1 734.9,159.3 736.2,163.5 737.5,167.8 737.1,172.2 736.7,176.7 734.3,179.8 731.9,182.9 730.4,186.4 728.8,190.0 726.9,193.8 725.0,197.6 721.4,198.1 717.8,198.7 714.2,199.3 710.6,199.8 707.0,200.4 703.5,200.9 699.9,201.3 696.3,201.8 692.7,202.2 689.1,202.6 685.5,202.9 681.9,203.3 678.3,203.7 674.7,204.0 671.1,204.4Z" fill="#8aafff"/>
<path d="M608.7,191.6 612.4,191.4 616.2,191.1 620.0,190.9 623.7,190.7 627.5,190.4 631.3,190.1 635.0,189.9 638.8,189.6 642.5,189.3 646.3,189.0 650.1,188.7 653.8,188.4 655.5,193.7 657.2,199.1 659.6,204.1 660.0,209.4 660.5,214.7 661.0,219.9 661.4,225.2 661.9,230.5 662.4,235.7 662.8,241.0 663.3,246.3 663.8,251.6 664.2,256.8 663.6,259.4 664.6,262.0 663.8,264.6 665.0,268.9 663.5,271.0 663.6,273.7 661.6,275.6 661.6,278.3 660.1,280.3 659.3,282.5 660.1,284.9 658.8,287.0 659.6,289.3 658.8,291.5 659.1,293.9 656.8,295.8 657.7,298.4 656.6,300.5 655.7,302.9 652.9,303.6 652.4,306.3 650.3,307.6 648.2,309.2 645.4,308.1 643.6,310.6 641.0,310.5 638.9,309.5 638.3,306.9 635.7,306.3 634.6,304.3 634.2,301.8 631.7,300.4 631.8,297.6 629.4,296.2 629.8,293.3 627.3,291.8 626.7,289.4 625.3,287.5 625.4,284.9 623.3,283.2 623.6,280.5 621.2,279.0 620.9,276.6 620.7,273.3 620.5,270.0 618.9,268.2 616.2,268.3 614.9,265.8 612.3,265.9 610.9,263.7 608.2,263.7 606.6,262.0 605.9,259.5 603.4,258.1 603.4,255.2 600.7,253.9 600.7,251.0 598.2,249.6 597.6,247.1 598.7,244.4 597.6,241.4 598.5,238.7 600.5,236.5 601.2,233.4 603.4,231.4 603.6,228.8 605.9,227.2 605.4,224.4 607.4,222.6 607.2,219.9 609.5,218.2 609.1,215.5 610.5,213.4 611.5,211.2 614.0,210.3 614.5,207.7 616.6,206.5 615.9,204.1 613.8,202.5 613.7,199.8 611.5,198.3 611.4,195.6 609.2,194.0 608.7,191.6Z" fill="#244999"/>
<path d="M659.6,204.1 662.4,205.7 665.2,207.2 668.1,205.8 671.1,204.4 674.7,204.0 678.3,203.7 681.9,203.3 685.5,202.9 689.1,202.6 692.7,202.2 696.3,201.8 699.9,201.3 703.5,200.9 704.0,206.1 704.6,211.2 705.2,216.4 705.8,221.5 706.3,226.7 706.9,231.8 707.5,237.0 708.1,242.2 708.7,247.3 709.2,252.5 709.8,257.6 708.8,259.9 710.4,262.5 709.3,264.8 705.3,265.7 701.4,266.6 699.7,268.5 700.1,271.4 697.8,273.1 697.9,275.9 696.4,277.9 694.0,278.6 692.9,281.1 690.2,281.3 689.2,284.0 686.2,283.8 685.2,286.5 682.8,287.1 681.1,288.9 678.3,288.2 676.9,290.6 674.4,290.8 672.1,290.6 670.6,288.3 668.0,288.6 666.3,287.1 663.4,287.9 661.7,290.7 658.8,291.5 659.6,289.3 658.8,287.0 660.1,284.9 659.3,282.5 660.1,280.3 661.6,278.3 661.6,275.6 663.6,273.7 663.5,271.0 665.0,268.9 663.8,264.6 664.6,262.0 663.6,259.4 664.2,256.8 663.8,251.6 663.3,246.3 662.8,241.0 662.4,235.7 661.9,230.5 661.4,225.2 661.0,219.9 660.5,214.7 660.0,209.4 659.6,204.1Z" fill="#d22532"/>
<path d="M703.5,200.9 707.0,200.4 710.6,199.8 714.2,199.3 717.8,198.7 721.4,198.1 725.0,197.6 728.9,199.6 732.8,201.6 735.7,201.7 738.6,201.9 742.0,201.0 745.4,200.2 748.8,199.3 752.8,198.2 756.7,197.0 759.8,194.3 762.9,191.6 766.0,188.9 768.4,187.1 770.8,185.2 771.6,190.1 772.4,194.9 773.2,199.7 774.0,204.6 774.8,209.4 775.5,214.2 776.1,217.0 775.1,219.6 774.2,222.1 775.4,224.7 774.3,227.1 773.2,229.4 774.6,232.1 773.3,234.4 771.4,238.0 769.2,239.2 768.7,242.0 766.0,242.8 765.5,245.5 763.3,246.6 761.7,248.5 762.7,251.2 761.0,253.0 758.6,253.7 757.7,256.5 755.2,257.2 754.2,258.4 754.1,260.9 752.1,262.6 752.9,265.4 751.2,267.3 748.7,267.7 746.4,266.4 744.8,264.2 741.3,261.8 738.6,261.8 736.5,263.8 733.6,263.0 731.5,265.2 728.8,265.2 726.3,264.6 724.3,262.9 721.6,262.0 720.1,259.3 717.0,259.2 715.1,257.0 712.5,257.3 709.8,257.6 709.2,252.5 708.7,247.3 708.1,242.2 707.5,237.0 706.9,231.8 706.3,226.7 705.8,221.5 705.2,216.4 704.6,211.2 704.0,206.1 703.5,200.9Z" fill="#ff5865"/>
<path d="M709.8,257.6 712.5,257.3 715.1,257.0 717.0,259.2 720.1,259.3 721.6,262.0 724.3,262.9 726.3,264.6 728.8,265.2 731.5,265.2 733.6,263.0 736.5,263.8 738.6,261.8 741.3,261.8 744.8,264.2 746.4,266.4 748.7,267.7 749.2,271.1 749.7,274.6 751.1,277.1 754.3,277.9 755.7,280.4 757.5,282.5 760.5,283.0 762.1,285.3 760.1,286.9 759.3,289.6 757.3,291.3 755.0,292.9 753.9,295.6 751.3,296.8 749.7,299.0 747.6,300.1 746.1,302.0 743.7,302.8 742.3,304.8 740.2,305.9 737.7,307.5 735.8,309.8 731.6,310.3 727.4,310.8 723.2,311.3 719.1,311.8 714.9,312.3 710.7,312.8 706.5,313.3 702.3,313.8 698.1,314.2 693.9,314.7 689.7,315.1 685.5,315.5 681.3,315.9 677.1,316.3 672.9,316.7 668.7,317.1 664.5,317.5 660.3,317.8 660.5,320.0 656.4,320.3 652.2,320.7 648.1,321.0 644.0,321.3 639.9,321.6 635.8,321.9 637.8,320.2 637.5,317.3 640.1,316.0 640.2,313.2 642.0,311.5 641.0,310.5 643.6,310.6 645.4,308.1 648.2,309.2 650.3,307.6 652.4,306.3 652.9,303.6 655.7,302.9 656.6,300.5 657.7,298.4 656.8,295.8 659.1,293.9 658.8,291.5 661.7,290.7 663.4,287.9 666.3,287.1 668.0,288.6 670.6,288.3 672.1,290.6 674.4,290.8 676.9,290.6 678.3,288.2 681.1,288.9 682.8,287.1 685.2,286.5 686.2,283.8 689.2,284.0 690.2,281.3 692.9,281.1 694.0,278.6 696.4,277.9 697.9,275.9 697.8,273.1 700.1,271.4 699.7,268.5 701.4,266.6 705.3,265.7 709.3,264.8 710.4,262.5 708.8,259.9 709.8,257.6Z" fill="#d22532"/>
<path d="M735.8,309.8 739.7,309.3 743.6,308.8 747.4,308.3 751.3,307.8 755.2,307.2 759.0,306.7 762.9,306.2 766.8,305.6 770.6,305.1 768.8,310.7 765.3,316.7 762.3,318.3 759.3,319.8 756.3,321.4 753.1,323.7 749.9,326.0 746.7,328.3 742.8,330.2 739.0,332.2 735.1,334.2 732.1,340.1 729.1,346.0 725.4,346.5 721.6,346.9 717.9,347.4 714.1,347.8 710.4,348.2 706.6,348.6 702.5,349.1 698.3,349.5 694.2,349.9 690.0,350.4 685.9,350.8 681.7,351.2 677.6,351.6 673.4,351.9 669.2,352.3 665.1,352.7 660.9,353.0 656.8,353.3 652.7,353.7 648.6,354.0 644.5,354.3 640.4,354.6 636.2,354.8 632.1,355.1 628.0,355.4 623.9,355.6 625.4,352.8 628.0,351.0 627.8,348.5 630.1,346.7 629.3,344.1 631.4,342.3 630.4,339.6 632.4,337.7 631.5,335.0 633.0,333.1 634.4,331.0 633.6,328.5 635.5,326.5 634.6,324.0 635.8,321.9 639.9,321.6 644.0,321.3 648.1,321.0 652.2,320.7 656.4,320.3 660.5,320.0 660.3,317.8 664.5,317.5 668.7,317.1 672.9,316.7 677.1,316.3 681.3,315.9 685.5,315.5 689.7,315.1 693.9,314.7 698.1,314.2 702.3,313.8 706.5,313.3 710.7,312.8 714.9,312.3 719.1,311.8 723.2,311.3 727.4,310.8 731.6,310.3 735.8,309.8Z" fill="#d22532"/>
<path d="M623.9,355.6 628.0,355.4 632.1,355.1 636.2,354.8 640.4,354.6 644.5,354.3 648.6,354.0 652.7,353.7 656.8,353.3 660.9,353.0 662.9,355.0 662.7,360.6 662.4,366.1 662.2,371.6 662.0,377.1 661.8,382.6 661.6,388.1 661.4,393.7 661.1,399.2 660.9,404.7 660.6,410.2 661.1,415.6 661.5,421.1 662.1,426.3 662.7,431.5 663.3,436.7 663.9,441.9 664.5,447.1 665.1,452.3 665.7,457.5 661.7,454.4 657.0,455.0 652.4,455.7 647.8,457.7 643.3,459.6 643.0,457.3 641.4,455.5 641.3,453.2 640.5,447.8 639.7,442.4 635.3,442.7 630.9,442.9 626.5,443.2 622.1,443.4 617.6,443.7 613.2,443.9 608.8,444.1 604.4,444.3 604.4,438.9 604.5,433.4 605.6,431.3 604.1,428.9 606.0,426.9 604.6,424.5 605.8,422.4 607.8,420.6 607.8,417.5 610.4,416.0 610.4,412.9 612.6,411.1 613.0,408.8 610.9,406.9 612.2,404.5 610.3,402.6 610.8,400.3 610.0,398.0 611.9,395.9 610.2,393.6 612.0,391.5 610.3,389.2 611.3,387.1 611.6,384.5 614.2,383.0 613.7,380.0 616.0,378.4 615.6,375.5 618.2,374.0 617.7,371.0 619.3,369.1 619.5,366.6 621.6,364.8 621.0,362.1 623.0,360.3 622.3,357.6 623.9,355.6Z" fill="#d22532"/>
<path d="M660.9,353.0 665.1,352.7 669.2,352.3 673.4,351.9 677.6,351.6 681.7,351.2 685.9,350.8 690.0,350.4 694.2,349.9 698.3,349.5 702.5,349.1 706.6,348.6 706.8,351.0 708.3,352.9 707.9,355.4 709.6,357.2 709.2,359.7 710.7,361.6 710.4,364.1 711.9,366.0 711.6,368.5 713.1,370.4 712.9,372.9 714.4,374.8 714.1,377.2 715.6,379.2 715.2,381.6 716.8,383.6 716.4,386.0 718.1,387.9 717.7,390.4 719.3,392.3 719.4,394.6 720.2,396.9 722.2,398.5 722.5,401.1 724.2,402.9 723.5,405.3 724.3,407.8 723.1,410.2 723.9,412.7 723.2,415.1 723.8,420.2 724.3,425.2 724.9,430.3 725.7,432.6 727.3,434.4 722.9,434.9 718.5,435.4 714.2,435.9 709.8,436.4 705.4,436.8 701.1,437.3 696.7,437.7 692.3,438.1 687.9,438.5 683.6,438.9 679.2,439.3 680.2,444.4 681.3,449.4 682.4,454.4 679.6,455.2 676.9,456.0 674.7,452.3 672.5,448.7 671.9,452.5 671.3,456.4 668.5,457.0 665.7,457.5 665.1,452.3 664.5,447.1 663.9,441.9 663.3,436.7 662.7,431.5 662.1,426.3 661.5,421.1 661.1,415.6 660.6,410.2 660.9,404.7 661.1,399.2 661.4,393.7 661.6,388.1 661.8,382.6 662.0,377.1 662.2,371.6 662.4,366.1 662.7,360.6 662.9,355.0 660.9,353.0Z" fill="#d22532"/>
<path d="M729.1,346.0 733.4,345.5 737.7,344.9 741.9,344.4 746.2,343.8 750.5,343.2 749.0,345.3 749.2,348.1 747.9,350.2 749.7,351.9 752.5,351.9 754.1,354.0 756.5,354.6 757.4,357.0 759.7,358.3 760.1,361.0 762.4,362.4 763.4,364.7 765.0,366.6 767.7,367.2 768.9,369.7 771.5,370.3 772.9,372.6 775.2,373.6 776.2,375.9 778.6,377.1 779.2,379.6 781.5,380.9 782.1,383.5 784.3,384.9 784.8,387.5 787.2,388.7 788.3,390.9 789.7,393.1 792.3,393.9 793.3,396.6 795.9,397.5 796.9,400.1 799.2,401.4 797.3,407.2 795.9,413.0 794.4,418.7 794.2,423.1 793.9,427.5 793.6,431.9 789.0,432.1 784.3,432.4 782.9,435.9 783.6,440.2 780.0,436.8 775.5,437.2 771.0,437.5 766.5,437.9 762.0,438.3 757.6,438.6 753.1,438.9 748.6,439.2 744.1,439.6 739.6,439.9 735.1,440.1 730.6,440.4 728.9,437.4 727.3,434.4 725.7,432.6 724.9,430.3 724.3,425.2 723.8,420.2 723.2,415.1 723.9,412.7 723.1,410.2 724.3,407.8 723.5,405.3 724.2,402.9 722.5,401.1 722.2,398.5 720.2,396.9 719.4,394.6 719.3,392.3 717.7,390.4 718.1,387.9 716.4,386.0 716.8,383.6 715.2,381.6 715.6,379.2 714.1,377.2 714.4,374.8 712.9,372.9 713.1,370.4 711.6,368.5 711.9,366.0 710.4,364.1 710.7,361.6 709.2,359.7 709.6,357.2 707.9,355.4 708.3,352.9 706.8,351.0 706.6,348.6 710.4,348.2 714.1,347.8 717.9,347.4 721.6,346.9 725.4,346.5 729.1,346.0Z" fill="#ff8b98"/>
<path d="M727.3,434.4 728.9,437.4 730.6,440.4 735.1,440.1 739.6,439.9 744.1,439.6 748.6,439.2 753.1,438.9 757.6,438.6 762.0,438.3 766.5,437.9 771.0,437.5 775.5,437.2 780.0,436.8 783.6,440.2 782.9,435.9 784.3,432.4 789.0,432.1 793.6,431.9 795.0,436.9 796.4,441.9 797.9,446.9 800.2,450.9 802.5,455.0 804.8,459.0 807.1,463.0 810.7,467.6 814.3,472.2 818.0,476.7 818.0,480.0 818.1,483.3 820.8,488.0 823.5,492.6 826.3,497.3 828.2,501.4 830.1,505.4 832.0,509.5 833.9,513.6 834.1,518.6 834.3,523.7 834.4,528.7 834.6,533.8 833.5,538.7 832.4,543.6 828.5,545.8 824.6,548.1 821.5,548.5 818.3,548.9 817.0,546.2 815.7,543.6 814.1,540.9 812.6,538.2 808.8,536.4 805.1,534.6 802.3,531.0 799.6,527.4 796.9,523.8 793.8,519.9 790.8,516.0 786.6,511.1 782.5,506.2 780.3,501.1 778.1,495.9 778.1,491.5 778.2,487.1 778.2,482.8 776.6,478.6 775.1,474.4 773.6,470.2 769.2,466.5 764.8,462.7 760.5,458.8 756.4,456.5 752.3,454.1 748.2,451.7 744.6,453.6 741.1,455.5 737.5,457.4 733.3,459.3 729.1,461.3 724.9,463.2 719.6,458.3 714.3,453.4 709.8,452.4 705.3,451.4 700.8,450.4 696.2,451.4 691.6,452.4 687.0,453.4 682.4,454.4 681.3,449.4 680.2,444.4 679.2,439.3 683.6,438.9 687.9,438.5 692.3,438.1 696.7,437.7 701.1,437.3 705.4,436.8 709.8,436.4 714.2,435.9 718.5,435.4 722.9,434.9 727.3,434.4Z" fill="#ff5865"/>
<path d="M750.5,343.2 753.8,341.7 757.2,340.1 760.5,338.5 763.9,336.9 767.6,336.6 771.2,336.2 774.9,335.8 778.6,335.5 782.3,335.1 786.0,334.7 788.3,336.6 791.4,341.6 795.4,341.0 799.3,340.3 803.3,339.7 807.2,339.0 811.1,338.3 815.8,341.7 820.5,345.1 825.2,348.5 829.9,351.9 834.7,355.3 832.2,357.4 829.8,359.5 827.2,365.5 824.6,371.6 821.3,375.5 818.0,379.4 814.7,383.3 810.7,386.7 806.6,390.2 802.9,395.8 799.2,401.4 796.9,400.1 795.9,397.5 793.3,396.6 792.3,393.9 789.7,393.1 788.3,390.9 787.2,388.7 784.8,387.5 784.3,384.9 782.1,383.5 781.5,380.9 779.2,379.6 778.6,377.1 776.2,375.9 775.2,373.6 772.9,372.6 771.5,370.3 768.9,369.7 767.7,367.2 765.0,366.6 763.4,364.7 762.4,362.4 760.1,361.0 759.7,358.3 757.4,357.0 756.5,354.6 754.1,354.0 752.5,351.9 749.7,351.9 747.9,350.2 749.2,348.1 749.0,345.3 750.5,343.2Z" fill="#d22532"/>
<path d="M770.6,305.1 770.8,305.9 774.9,305.3 779.0,304.7 783.1,304.0 787.2,303.4 791.3,302.7 795.5,302.0 799.6,301.3 803.7,300.6 807.8,299.9 811.9,299.2 816.0,298.4 820.1,297.7 824.2,296.9 828.3,296.2 832.4,295.4 836.5,294.6 840.6,293.8 844.7,293.0 848.8,292.2 852.9,291.3 856.9,290.5 861.0,289.7 865.1,288.8 869.2,287.9 870.5,293.0 871.9,298.1 873.2,302.1 874.5,306.1 873.7,311.1 872.9,316.1 870.9,320.7 868.9,325.3 865.9,327.8 862.9,330.3 859.5,333.3 856.1,336.3 852.7,339.3 850.0,342.0 847.3,344.7 844.6,347.3 841.3,350.0 838.0,352.6 834.7,355.3 829.9,351.9 825.2,348.5 820.5,345.1 815.8,341.7 811.1,338.3 807.2,339.0 803.3,339.7 799.3,340.3 795.4,341.0 791.4,341.6 788.3,336.6 786.0,334.7 782.3,335.1 778.6,335.5 774.9,335.8 771.2,336.2 767.6,336.6 763.9,336.9 760.5,338.5 757.2,340.1 753.8,341.7 750.5,343.2 746.2,343.8 741.9,344.4 737.7,344.9 733.4,345.5 729.1,346.0 732.1,340.1 735.1,334.2 739.0,332.2 742.8,330.2 746.7,328.3 749.9,326.0 753.1,323.7 756.3,321.4 759.3,319.8 762.3,318.3 765.3,316.7 768.8,310.7 770.6,305.1Z" fill="#ff8b98"/>
<path d="M762.1,285.3 764.0,286.9 766.7,286.8 768.4,288.9 770.8,289.3 773.2,289.2 775.7,289.2 778.2,288.3 779.8,286.0 782.3,285.2 784.5,284.5 786.0,282.4 788.6,282.4 790.2,280.6 791.3,277.8 791.0,274.9 792.7,272.8 792.4,269.8 794.1,267.7 795.6,265.9 795.5,263.3 797.5,261.6 797.8,259.3 798.9,255.7 801.0,254.7 801.9,252.3 804.1,251.5 806.5,249.4 807.5,246.4 810.6,245.4 812.8,243.2 814.9,240.9 816.2,238.1 818.1,239.4 820.6,239.0 822.5,240.2 824.2,238.6 824.4,236.1 826.2,234.6 828.0,237.1 830.7,238.6 832.6,239.9 835.1,239.5 837.1,240.7 839.4,243.6 838.5,245.9 839.2,248.4 837.7,250.5 837.8,252.9 842.2,253.2 844.5,254.6 847.4,254.6 849.7,256.1 851.7,257.7 854.4,257.7 856.4,259.2 858.0,262.8 859.7,266.4 861.3,270.0 862.9,273.5 863.6,276.8 864.3,280.0 865.4,280.9 867.3,284.4 869.2,287.9 865.1,288.8 861.0,289.7 856.9,290.5 852.9,291.3 848.8,292.2 844.7,293.0 840.6,293.8 836.5,294.6 832.4,295.4 828.3,296.2 824.2,296.9 820.1,297.7 816.0,298.4 811.9,299.2 807.8,299.9 803.7,300.6 799.6,301.3 795.5,302.0 791.3,302.7 787.2,303.4 783.1,304.0 779.0,304.7 774.9,305.3 770.8,305.9 770.6,305.1 766.8,305.6 762.9,306.2 759.0,306.7 755.2,307.2 751.3,307.8 747.4,308.3 743.6,308.8 739.7,309.3 735.8,309.8 737.7,307.5 740.2,305.9 742.3,304.8 743.7,302.8 746.1,302.0 747.6,300.1 749.7,299.0 751.3,296.8 753.9,295.6 755.0,292.9 757.3,291.3 759.3,289.6 760.1,286.9 762.1,285.3Z" fill="#577ccc"/>
<path d="M871.8,254.1 869.0,255.3 866.2,256.4 863.0,257.4 859.7,258.3 856.4,259.2 858.0,262.8 859.7,266.4 861.3,270.0 862.9,273.5 863.6,276.8 864.3,280.0 865.6,274.3 866.6,270.4 867.5,266.5 869.0,262.4 870.4,258.2 871.8,254.1Z" fill="#577ccc"/>
<path d="M775.5,214.2 776.4,219.2 777.2,224.2 778.0,229.2 778.8,234.2 782.2,233.6 785.6,233.0 789.0,232.5 792.4,231.9 795.8,231.3 796.5,235.0 797.1,238.8 797.8,242.5 799.9,241.4 800.4,238.8 802.9,238.1 803.9,235.9 806.4,233.7 807.7,230.7 810.8,230.7 813.9,230.7 816.8,227.9 818.7,229.1 821.2,228.7 823.1,230.1 824.0,232.8 826.2,234.6 824.4,236.1 824.2,238.6 822.5,240.2 820.6,239.0 818.1,239.4 816.2,238.1 814.9,240.9 812.8,243.2 810.6,245.4 807.5,246.4 806.5,249.4 804.1,251.5 801.9,252.3 801.0,254.7 798.9,255.7 797.8,259.3 797.5,261.6 795.5,263.3 795.6,265.9 794.1,267.7 792.4,269.8 792.7,272.8 791.0,274.9 791.3,277.8 790.2,280.6 788.6,282.4 786.0,282.4 784.5,284.5 782.3,285.2 779.8,286.0 778.2,288.3 775.7,289.2 773.2,289.2 770.8,289.3 768.4,288.9 766.7,286.8 764.0,286.9 762.1,285.3 760.5,283.0 757.5,282.5 755.7,280.4 754.3,277.9 751.1,277.1 749.7,274.6 749.2,271.1 748.7,267.7 751.2,267.3 752.9,265.4 752.1,262.6 754.1,260.9 754.2,258.4 755.2,257.2 757.7,256.5 758.6,253.7 761.0,253.0 762.7,251.2 761.7,248.5 763.3,246.6 765.5,245.5 766.0,242.8 768.7,242.0 769.2,239.2 771.4,238.0 773.3,234.4 774.6,232.1 773.2,229.4 774.3,227.1 775.4,224.7 774.2,222.1 775.1,219.6 776.1,217.0 775.5,214.2Z" fill="#d22532"/>
<path d="M795.8,231.3 799.8,230.6 803.8,229.9 807.9,229.1 811.9,228.4 815.9,227.6 819.9,226.9 823.9,226.1 827.9,225.3 831.9,224.5 835.9,223.7 839.9,222.9 843.9,222.1 847.9,221.3 851.9,220.4 855.9,219.6 857.1,224.0 858.3,228.5 859.5,232.9 860.7,237.4 862.0,241.8 863.2,246.3 866.8,245.6 870.3,244.9 873.9,244.2 872.9,249.1 871.8,254.1 869.0,255.3 866.2,256.4 863.0,257.4 859.7,258.3 856.4,259.2 854.4,257.7 851.7,257.7 849.7,256.1 847.4,254.6 844.5,254.6 842.2,253.2 837.8,252.9 837.7,250.5 839.2,248.4 838.5,245.9 839.4,243.6 837.1,240.7 835.1,239.5 832.6,239.9 830.7,238.6 828.0,237.1 826.2,234.6 824.0,232.8 823.1,230.1 821.2,228.7 818.7,229.1 816.8,227.9 813.9,230.7 810.8,230.7 807.7,230.7 806.4,233.7 803.9,235.9 802.9,238.1 800.4,238.8 799.9,241.4 797.8,242.5 797.1,238.8 796.5,235.0 795.8,231.3Z" fill="#244999"/>
<path d="M855.9,219.6 857.1,224.0 858.3,228.5 859.5,232.9 860.7,237.4 862.0,241.8 863.2,246.3 866.8,245.6 870.3,244.9 873.9,244.2 872.8,240.5 871.8,236.8 868.0,232.0 864.2,227.2 862.2,224.2 860.3,221.3 861.5,215.9 858.7,217.7 855.9,219.6Z" fill="#244999"/>
<path d="M770.8,185.2 773.5,183.2 776.3,181.1 779.0,179.0 781.7,177.0 782.2,179.9 782.8,182.8 786.6,182.1 790.5,181.4 794.4,180.7 798.2,180.0 802.1,179.3 806.0,178.6 809.8,177.9 813.7,177.1 817.6,176.4 821.4,175.6 825.3,174.8 829.1,174.1 833.0,173.3 836.8,172.5 840.7,171.7 844.5,170.8 848.4,170.0 852.2,169.2 855.2,171.3 858.1,173.5 861.8,177.0 865.5,180.6 864.6,183.0 862.6,185.0 862.1,187.7 860.4,189.8 862.4,192.7 862.2,195.8 861.2,198.6 863.5,200.1 865.4,202.2 868.0,203.5 869.9,205.7 868.2,207.2 867.4,209.5 865.7,211.1 863.9,213.7 861.5,215.9 858.7,217.7 855.9,219.6 851.9,220.4 847.9,221.3 843.9,222.1 839.9,222.9 835.9,223.7 831.9,224.5 827.9,225.3 823.9,226.1 819.9,226.9 815.9,227.6 811.9,228.4 807.9,229.1 803.8,229.9 799.8,230.6 795.8,231.3 792.4,231.9 789.0,232.5 785.6,233.0 782.2,233.6 778.8,234.2 778.0,229.2 777.2,224.2 776.4,219.2 775.5,214.2 774.8,209.4 774.0,204.6 773.2,199.7 772.4,194.9 771.6,190.1 770.8,185.2Z" fill="#ff8b98"/>
<path d="M865.5,180.6 869.1,181.8 872.7,183.0 876.3,184.1 880.0,185.3 879.9,188.7 879.9,192.1 876.9,197.3 881.1,197.4 881.8,201.2 882.4,205.0 882.0,209.6 881.5,214.3 881.1,218.9 878.2,225.2 875.4,231.4 873.3,233.5 870.9,230.4 868.5,227.4 865.0,225.3 861.6,223.3 861.5,219.6 861.5,215.9 863.9,213.7 865.7,211.1 867.4,209.5 868.2,207.2 869.9,205.7 868.0,203.5 865.4,202.2 863.5,200.1 861.2,198.6 862.2,195.8 862.4,192.7 860.4,189.8 862.1,187.7 862.6,185.0 864.6,183.0 865.5,180.6Z" fill="#244999"/>
<path d="M781.7,177.0 784.8,174.0 787.8,171.0 790.9,168.0 791.9,164.8 792.9,161.6 791.0,157.8 789.1,153.9 791.8,152.6 794.6,151.4 797.3,150.2 800.8,150.0 804.4,149.9 808.0,149.8 811.6,149.7 815.0,148.1 818.5,146.4 821.9,144.8 825.3,143.2 828.7,141.6 832.1,139.9 830.2,134.7 828.3,129.5 828.9,124.9 831.3,121.1 833.7,117.3 836.5,114.4 839.4,111.5 842.2,108.7 845.0,105.8 847.9,102.9 851.3,102.2 854.6,101.4 858.0,100.6 861.4,99.8 864.8,99.0 868.2,98.2 869.4,103.5 870.6,108.8 871.4,111.4 871.2,114.2 872.4,116.8 872.4,119.6 873.5,123.8 874.5,128.1 876.9,128.2 878.0,132.6 879.0,137.1 880.1,141.6 881.1,146.0 881.1,151.2 881.0,156.3 880.9,161.4 882.3,166.7 883.7,172.0 885.1,177.3 882.1,182.5 883.9,184.4 885.2,186.3 888.3,185.2 891.4,184.1 894.5,182.9 897.6,181.0 900.8,179.1 903.9,177.2 908.0,176.7 912.1,176.2 909.1,178.9 906.2,181.5 903.2,184.2 899.5,186.2 895.8,188.3 892.1,190.3 888.4,192.3 884.4,193.3 880.4,194.2 880.2,189.8 880.0,185.3 876.3,184.1 872.7,183.0 869.1,181.8 865.5,180.6 861.8,177.0 858.1,173.5 855.2,171.3 852.2,169.2 848.4,170.0 844.5,170.8 840.7,171.7 836.8,172.5 833.0,173.3 829.1,174.1 825.3,174.8 821.4,175.6 817.6,176.4 813.7,177.1 809.8,177.9 806.0,178.6 802.1,179.3 798.2,180.0 794.4,180.7 790.5,181.4 786.6,182.1 782.8,182.8 782.2,179.9 781.7,177.0Z" fill="#244999"/>
<path d="M880.9,161.4 884.7,160.6 888.5,159.8 892.3,158.9 896.1,158.1 899.9,157.2 903.7,156.3 907.5,155.4 908.6,160.6 909.7,165.7 910.7,170.9 907.4,172.0 904.0,173.1 900.7,174.2 897.2,175.9 893.7,177.7 890.3,179.5 887.1,181.9 883.9,184.4 882.1,182.5 885.1,177.3 883.7,172.0 882.3,166.7 880.9,161.4Z" fill="#244999"/>
<path d="M907.5,155.4 910.8,154.8 914.2,154.1 917.6,158.9 921.0,163.7 918.4,165.8 915.8,168.0 913.3,169.5 910.7,170.9 909.7,165.7 908.6,160.6 907.5,155.4Z" fill="#244999"/>
<path d="M881.1,146.0 884.2,145.3 887.3,144.5 890.4,143.8 893.5,143.0 897.1,142.2 900.7,141.4 904.3,140.6 907.9,139.8 911.5,139.0 914.7,136.2 917.9,133.4 920.4,137.3 917.7,141.4 917.8,145.5 922.3,147.4 925.0,150.1 927.1,152.7 929.2,154.2 933.3,154.0 935.2,152.0 933.8,147.9 935.9,147.8 938.5,150.0 938.6,154.3 936.5,155.2 934.5,156.1 932.5,157.1 930.4,158.2 927.8,159.6 925.1,159.4 922.4,161.5 921.0,163.7 917.6,158.9 914.2,154.1 910.8,154.8 907.5,155.4 903.7,156.3 899.9,157.2 896.1,158.1 892.3,158.9 888.5,159.8 884.7,160.6 880.9,161.4 881.0,156.3 881.1,151.2 881.1,146.0Z" fill="#244999"/>
<path d="M868.2,98.2 871.6,97.3 875.1,96.5 878.5,95.6 881.9,94.8 885.3,93.9 888.8,93.0 892.2,92.1 895.6,91.2 895.4,93.5 896.5,95.6 895.9,97.8 897.1,99.9 896.9,102.2 895.4,104.1 895.3,106.7 893.8,108.6 892.7,111.3 893.0,114.3 891.9,117.0 891.2,119.2 892.0,121.7 891.2,123.9 890.6,126.2 891.7,128.5 890.7,130.7 891.1,133.0 892.3,138.0 893.5,143.0 890.4,143.8 887.3,144.5 884.2,145.3 881.1,146.0 880.1,141.6 879.0,137.1 878.0,132.6 876.9,128.2 874.5,128.1 873.5,123.8 872.4,119.6 872.4,116.8 871.2,114.2 871.4,111.4 870.6,108.8 869.4,103.5 868.2,98.2Z" fill="#244999"/>
<path d="M895.6,91.2 897.9,87.2 900.2,83.3 901.8,88.5 903.4,93.7 905.0,98.9 906.6,104.1 908.2,109.3 909.8,114.5 911.5,119.7 913.1,125.0 915.8,126.8 918.6,128.7 917.9,133.4 914.7,136.2 911.5,139.0 907.9,139.8 904.3,140.6 900.7,141.4 897.1,142.2 893.5,143.0 892.3,138.0 891.1,133.0 890.7,130.7 891.7,128.5 890.6,126.2 891.2,123.9 892.0,121.7 891.2,119.2 891.9,117.0 893.0,114.3 892.7,111.3 893.8,108.6 895.3,106.7 895.4,104.1 896.9,102.2 897.1,99.9 895.9,97.8 896.5,95.6 895.4,93.5 895.6,91.2Z" fill="#577ccc"/>
<path d="M900.2,83.3 902.0,78.6 903.8,74.0 905.5,69.4 906.7,65.0 907.8,60.5 908.9,56.1 909.9,50.7 911.0,45.3 912.0,39.9 913.4,35.2 914.8,30.5 918.0,33.0 922.3,35.5 924.7,32.8 927.1,30.1 929.3,28.7 933.0,30.1 936.4,32.2 938.0,37.0 939.7,41.8 941.4,46.6 943.0,51.4 944.7,56.2 948.5,59.8 952.3,63.3 956.1,66.9 959.9,70.4 961.8,74.4 959.4,77.7 957.0,81.1 954.6,84.4 951.6,86.4 948.7,88.5 946.7,91.1 944.7,93.8 942.6,96.4 939.9,97.8 937.2,99.1 934.4,100.4 932.5,104.5 930.6,108.6 928.2,111.3 925.9,114.0 923.6,116.7 921.9,120.7 920.2,124.7 918.6,128.7 915.8,126.8 913.1,125.0 911.5,119.7 909.8,114.5 908.2,109.3 906.6,104.1 905.0,98.9 903.4,93.7 901.8,88.5 900.2,83.3Z" fill="#577ccc"/>
<path d="M131.3,431.5 141.4,435.1 150.4,438.1 165.5,438.1 171.6,440.1 185.1,509.9 191.6,508.3 200.2,513.6 207.7,509.3 215.2,514.7 223.8,521.1 233.4,527.6 237.7,531.9 238.8,537.3 231.3,540.5 221.6,535.1 213.0,527.6 204.4,519.0 195.9,514.7 188.3,512.6 175.4,512.6 168.0,510.5 163.5,508.2 160.5,510.0 158.0,517.0 153.0,521.5 148.5,520.0 146.5,514.0 145.8,509.0 144.5,514.0 141.5,521.0 138.9,525.3 133.8,530.4 125.5,538.7 115.4,545.5 105.3,550.5 93.6,555.5 81.8,559.7 72.6,563.1 70.9,562.2 75.1,558.9 85.2,553.8 95.2,548.8 107.0,542.1 117.1,535.4 125.5,528.7 123.3,522.3 117.2,525.3 109.2,523.3 107.1,517.3 100.1,513.3 97.1,505.2 96.1,498.2 100.1,493.1 105.1,490.1 114.2,486.1 115.2,479.0 108.2,479.4 100.1,477.4 98.1,473.3 94.6,469.3 100.1,466.3 107.1,464.8 110.5,464.5 115.0,465.5 112.2,461.2 109.7,458.2 108.2,453.2 104.1,449.7 105.1,446.6 114.2,442.1 117.2,437.1 123.3,434.6ZM135.5,537.0 140.0,531.5 144.5,529.5 143.5,535.0 137.5,539.5ZM80.0,482.5 84.0,482.0 87.5,485.0 86.0,486.5 81.0,485.0ZM89.0,510.5 92.5,509.8 93.8,512.5 90.0,513.0ZM66.0,564.0 69.0,562.5 69.5,563.8 66.5,565.0ZM60.0,567.5 63.0,566.5 63.2,567.5 60.3,568.3Z" fill="#ff5865"/>
<path d="M262.8,494.3 265.1,491.8 270.4,491.8 271.9,494.3 270.4,497.8 266.6,498.9 262.8,496.6ZM253.0,499.0 256.0,496.8 257.2,497.6 254.0,499.8ZM293.8,506.4 298.3,502.6 300.6,506.4 304.3,510.9 301.3,512.0 296.8,510.2ZM313.4,514.7 324.0,514.0 324.0,516.2 314.2,516.2ZM318.7,520.5 321.5,520.0 321.7,523.5 319.0,523.8ZM326.2,519.5 330.0,519.2 334.5,521.5 339.1,523.8 336.0,526.0 332.3,526.5 329.2,523.8 327.0,522.3ZM325.5,527.5 327.7,527.3 327.7,529.0 325.5,529.0ZM342.1,535.1 346.6,536.6 352.6,540.4 358.7,544.9 363.2,550.2 357.2,554.0 351.1,557.0 345.1,562.3 341.3,558.5 340.6,550.9 339.1,544.9 341.3,540.4Z" fill="#244999" stroke-width="0.4"/>
<path d="M93.5,325.5 96.0,325.5 96.0,327.0 93.5,327.0ZM100.5,326.0 103.0,326.5 102.8,327.8 100.3,327.3ZM121.0,345.5 122.5,346.0 122.3,347.5 120.8,347.0ZM117.8,355.5 119.0,356.0 118.8,357.5 117.5,357.0ZM926.5,163.2 930.0,162.6 930.5,164.2 927.0,164.6ZM936.0,163.6 939.5,162.8 940.0,164.0 936.5,164.8Z" fill="#244999" stroke-width="0.4"/>
</g>
<g stroke="#fff" fill="none" stroke-linejoin="round" stroke-linecap="round"><path d="M638.5,464.5 645.5,463.8" stroke-width="2.6"/><path d="M77.5,232.8 80.5,232.0 81.8,229.0" stroke-width="1.5"/><path d="M80.5,232.0 80.6,236.5 81.8,241.5" stroke-width="1.5"/><path d="M806.6,564.0 811.0,561.8 815.7,560.2" stroke="#d0505f" stroke-width="1.3"/><path d="M136.5,16.5 139.4,21.0 137.8,26.8 136.1,31.9 131.0,36.9" stroke-width="1.6"/><path d="M139.5,14.0 141.2,20.0 139.8,25.0" stroke-width="1.1"/><path d="M857.0,297.5 866.0,295.5 870.5,300.0 869.5,309.0" stroke-width="1.4"/><path d="M860.0,311.0 866.5,314.0" stroke-width="1.3"/><path d="M857.0,319.0 867.0,322.5 863.0,328.0" stroke-width="1.3"/><path d="M853.5,224.8 850.1,231.5 848.8,236.8 851.5,242.2 854.2,247.6 856.8,253.0 858.9,259.7 860.2,266.4 862.2,273.1 864.2,279.8 866.2,285.2" stroke-width="2.6"/><path d="M848.8,263.7 856.8,266.4" stroke-width="1.3"/><path d="M850.1,275.8 859.5,279.8" stroke-width="1.3"/></g>
<g fill="#fff" font-size="13.6" text-anchor="middle" letter-spacing="0.7">
<text x="170.35" y="35.3">WA</text><text x="170.35" y="47.8">12</text><text x="147.54999999999998" y="107.8">OR</text><text x="147.54999999999998" y="120.4">8</text><text x="232.15" y="120.4">ID</text><text x="232.15" y="132.7">4</text><text x="323.35" y="63.4">MT</text><text x="323.35" y="75.9">4</text><text x="459.35" y="75.2">ND</text><text x="458.85" y="87.8">3</text><text x="461.35" y="140.6">SD</text><text x="461.35" y="153.2">3</text><text x="343.55" y="152.7">WY</text><text x="343.55" y="165.8">3</text><text x="184.95" y="209.0">NV</text><text x="184.25" y="221.0">6</text><text x="115.25" y="244.5">CA</text><text x="115.25" y="256.3">54</text><text x="265.55" y="233.6">UT</text><text x="265.55" y="246.2">6</text><text x="365.65000000000003" y="246.3">CO</text><text x="365.65000000000003" y="258.4">10</text><text x="247.95" y="334.0">AZ</text><text x="247.95" y="346.1">11</text><text x="346.15000000000003" y="344.1">NM</text><text x="346.15000000000003" y="356.2">5</text><text x="566.65" y="198.8">IA</text><text x="566.65" y="210.8">6</text><text x="486.05" y="276.8">KS</text><text x="486.05" y="288.9">6</text><text x="579.25" y="266.2">MO</text><text x="579.25" y="278.8">10</text><text x="498.55" y="341.7">OK</text><text x="498.55" y="354.0">7</text><text x="463.85" y="416.9">TX</text><text x="463.85" y="429.0">40</text><text x="695.15" y="327.2">TN</text><text x="695.15" y="339.3">11</text><text x="589.45" y="354.9">AR</text><text x="589.45" y="367.0">6</text><text x="639.25" y="386.4">MS</text><text x="639.25" y="399.0">6</text><text x="691.95" y="382.1">AL</text><text x="691.95" y="394.7">9</text><text x="752.35" y="377.6">GA</text><text x="752.35" y="388.9">16</text><text x="589.35" y="427.1">LA</text><text x="589.35" y="439.4">8</text><text x="636.95" y="225.6">IL</text><text x="636.95" y="238.2">19</text><text x="687.35" y="226.1">IN</text><text x="687.35" y="238.7">11</text><text x="742.25" y="223.6">OH</text><text x="742.25" y="236.2">17</text><text x="719.5500000000001" y="284.0">KY</text><text x="719.5500000000001" y="296.1">8</text><text x="779.95" y="266.4">WV</text><text x="779.95" y="279.0">4</text><text x="546.45" y="93.4">MN</text><text x="546.45" y="105.5">10</text><text x="619.45" y="141.3">WI</text><text x="619.45" y="153.1">10</text><text x="694.95" y="165.2">MI</text><text x="694.95" y="177.8">15</text><text x="819.75" y="201.0">PA</text><text x="819.75" y="213.6">19</text><text x="823.0500000000001" y="258.9">VA</text><text x="823.0500000000001" y="270.7">13</text><text x="827.35" y="316.6">NC</text><text x="827.35" y="328.7">16</text><text x="799.75" y="361.9">SC</text><text x="799.75" y="374.0">9</text><text x="805.0500000000001" y="499.7">FL</text><text x="805.0500000000001" y="511.8">30</text><text x="852.85" y="130.9">NY</text><text x="852.85" y="143.1">28</text><text x="144.95" y="469.7">AK</text><text x="144.95" y="480.6">3</text>
<text x="463.9" y="208.7">NE</text><text x="449.6" y="228.7">4</text>
</g>
<rect x="464.3" y="213" width="22.3" height="23.1" fill="#577ccc" stroke="#f0c8cc" stroke-width="0.8"/>
<text x="474.9" y="228.5" fill="#fff" font-size="13" text-anchor="middle">1</text>
<g fill="#1a1a1a" font-size="13" text-anchor="middle"><text x="330.4" y="554.9">HI</text><text x="330.4" y="567.9">4</text></g>
<g font-size="13.2" fill="#fff" letter-spacing="0.6">
<rect x="890.1" y="48.2" width="23.1" height="22.2" fill="#577ccc"/><rect x="913.2" y="47.7" width="24.2" height="23.2" fill="#ff5865" stroke="#f7c9cf" stroke-width="0.8"/><rect x="937.4" y="48.2" width="25.7" height="22.2" fill="#244999"/>
<text x="927" y="43.2" text-anchor="middle">ME</text>
<text x="900.6" y="63.5" text-anchor="middle">2</text><text x="925.8" y="63.5" text-anchor="middle">1</text><text x="951.5" y="63.5" text-anchor="middle">1</text>
<rect x="896.1" y="216.1" width="68.2" height="42.4" fill="#244999"/><text x="901.4" y="241.3">VT</text><text x="946.6" y="241.3" text-anchor="middle">3</text><rect x="896.1" y="268.6" width="68.2" height="37.4" fill="#577ccc"/><text x="901.4" y="291.3">NH</text><text x="946.6" y="291.3" text-anchor="middle">4</text><rect x="896.1" y="317.1" width="68.2" height="36.7" fill="#244999"/><text x="901.4" y="339.4">MA</text><text x="946.6" y="339.4" text-anchor="middle">11</text><rect x="896.1" y="364.8" width="68.2" height="36.5" fill="#244999"/><text x="901.4" y="387.0">RI</text><text x="946.6" y="387.0" text-anchor="middle">4</text><rect x="896.1" y="412.2" width="68.2" height="37.1" fill="#244999"/><text x="901.4" y="434.7">CT</text><text x="946.6" y="434.7" text-anchor="middle">7</text><rect x="896.1" y="460.1" width="68.2" height="36.8" fill="#244999"/><text x="901.4" y="482.5">NJ</text><text x="946.6" y="482.5" text-anchor="middle">14</text><rect x="896.1" y="507.7" width="68.2" height="36.8" fill="#244999"/><text x="901.4" y="530.1">DE</text><text x="946.6" y="530.1" text-anchor="middle">3</text><rect x="896.1" y="555.1" width="68.2" height="37.1" fill="#244999"/><text x="901.4" y="577.6">MD</text><text x="946.6" y="577.6" text-anchor="middle">10</text>
</g>
<g fill="#1f3d8a" transform="translate(684.7,502.4)">
<path d="M0,10 C0,3.5 3,0 8,0 C13,0 16,3.5 16,9.5 C16,13.5 14.5,16 12,19 L7,25 L16,25 L16,30.5 L0,30.5 L0,25.5 L9,14.5 C10,13 10.3,11.5 10.3,9.5 C10.3,7 9.5,5.5 8,5.5 C6.5,5.5 5.7,7 5.7,9.5 L5.7,11.5 L0,11.5 Z"/>
<path d="M17.8,0 L34.2,0 L34.2,5.5 L27.5,30.5 L21.5,30.5 L28.3,5.5 L17.8,5.5 Z"/>
<path fill-rule="evenodd" d="M45,0 C50.5,0 53.7,3 53.7,8.5 L53.7,22 C53.7,27.5 50.5,30.5 45,30.5 C39.5,30.5 36.3,27.5 36.3,22 L36.3,8.5 C36.3,3 39.5,0 45,0 Z M45,5.5 C43.4,5.5 42.6,6.3 42.6,8 L42.6,22.5 C42.6,24.2 43.4,25 45,25 C46.6,25 47.4,24.2 47.4,22.5 L47.4,8 C47.4,6.3 46.6,5.5 45,5.5 Z"/>
</g>
<text x="0" y="0" fill="#9e2f47" font-size="21.8" class="nw" stroke="#9e2f47" stroke-width="0.7" transform="translate(700.3,551.9) scale(0.89,1)" style="font-family:'Liberation Sans',sans-serif">WIN</text>
<text x="0" y="0" fill="#7d7d7d" font-size="17.8" class="nw" stroke="#7d7d7d" stroke-width="0.6" transform="translate(698.1,551.9) rotate(-90) scale(0.61,1)" style="font-family:'Liberation Sans',sans-serif">TO</text>
</svg></div></body></html>
